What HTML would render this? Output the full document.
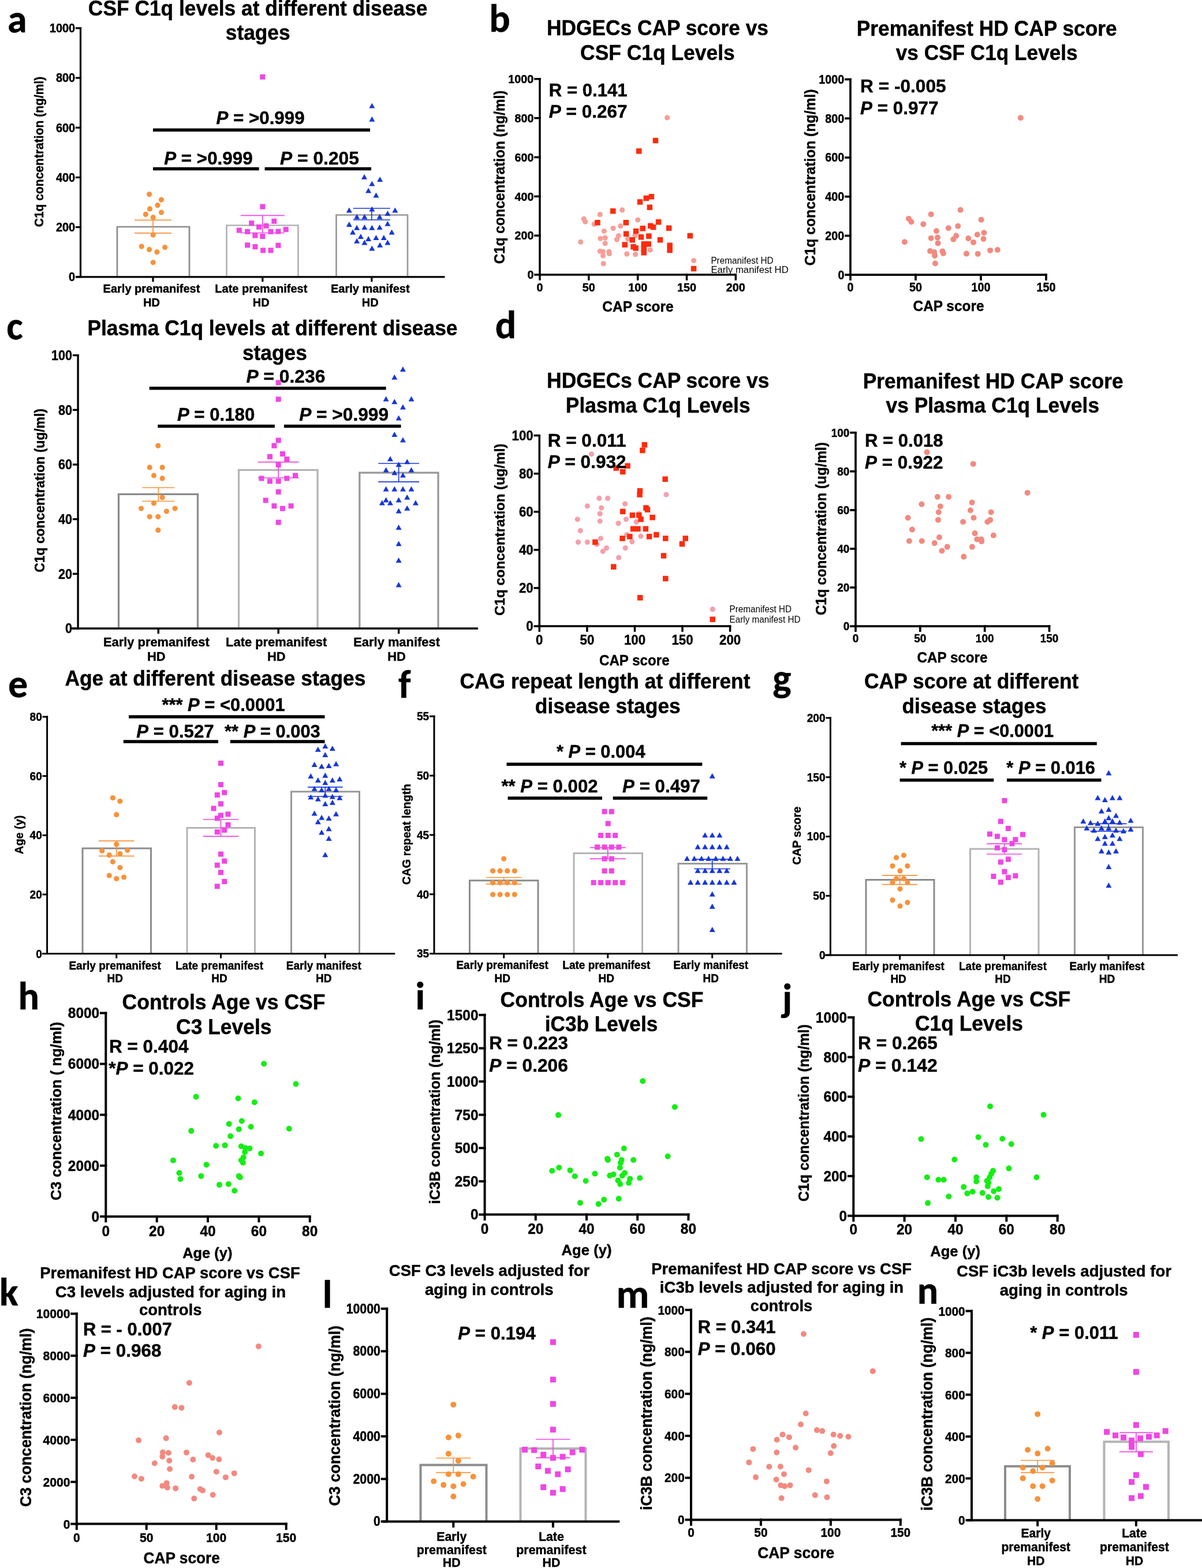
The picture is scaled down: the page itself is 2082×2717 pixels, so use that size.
<!DOCTYPE html><html><head><meta charset="utf-8"><style>html,body{margin:0;padding:0;background:#fff}svg{display:block}text{stroke:#000;stroke-width:0.45px;stroke-linejoin:round}text.n{stroke:none}</style></head><body><svg xmlns="http://www.w3.org/2000/svg" width="2082" height="2717" viewBox="0 0 2082 2717" font-family="'Liberation Sans', Arial, Helvetica, sans-serif" font-weight="bold"><rect width="2082" height="2717" fill="#fff"/><text x="29.8" y="55.6" font-size="68" text-anchor="middle" font-family="Carlito, 'Noto Sans CJK JP', 'Liberation Sans', sans-serif">a</text>
<text x="446.6" y="27" font-size="36.4" text-anchor="middle" textLength="587.5" lengthAdjust="spacingAndGlyphs">CSF C1q levels at different disease</text>
<text x="446.7" y="68.8" font-size="36.4" text-anchor="middle" textLength="111.8" lengthAdjust="spacingAndGlyphs">stages</text>
<path d="M203 479.8V393H328V479.8" fill="#fff" stroke="#8c8c8c" stroke-width="2.7"/>
<path d="M392.5 479.8V390.5H516.5V479.8" fill="#fff" stroke="#b4b4b4" stroke-width="2.7"/>
<path d="M582.5 479.8V372.5H706V479.8" fill="#fff" stroke="#999999" stroke-width="2.7"/>
<circle cx="258.6" cy="336.7" r="4.6" fill="#f7923a"/>
<circle cx="279.5" cy="346.2" r="4.6" fill="#f7923a"/>
<circle cx="272.9" cy="355.7" r="4.6" fill="#f7923a"/>
<circle cx="259.5" cy="361.9" r="4.6" fill="#f7923a"/>
<circle cx="252.4" cy="371.4" r="4.6" fill="#f7923a"/>
<circle cx="279.5" cy="368.1" r="4.6" fill="#f7923a"/>
<circle cx="265.2" cy="376.7" r="4.6" fill="#f7923a"/>
<circle cx="265.2" cy="407.1" r="4.6" fill="#f7923a"/>
<circle cx="245.2" cy="427.1" r="4.6" fill="#f7923a"/>
<circle cx="258.6" cy="432.4" r="4.6" fill="#f7923a"/>
<circle cx="271.9" cy="436.7" r="4.6" fill="#f7923a"/>
<circle cx="285.7" cy="428.6" r="4.6" fill="#f7923a"/>
<circle cx="265.2" cy="454.8" r="4.6" fill="#f7923a"/>
<rect x="450.3" y="128.8" width="9" height="9" fill="#f046e4"/>
<rect x="450.3" y="353.6" width="9" height="9" fill="#f046e4"/>
<rect x="431.2" y="382.2" width="9" height="9" fill="#f046e4"/>
<rect x="470.3" y="378.8" width="9" height="9" fill="#f046e4"/>
<rect x="409.8" y="394.5" width="9" height="9" fill="#f046e4"/>
<rect x="444.1" y="388.8" width="9" height="9" fill="#f046e4"/>
<rect x="456.5" y="386.9" width="9" height="9" fill="#f046e4"/>
<rect x="424.1" y="396.9" width="9" height="9" fill="#f046e4"/>
<rect x="437.4" y="403.6" width="9" height="9" fill="#f046e4"/>
<rect x="450.3" y="405" width="9" height="9" fill="#f046e4"/>
<rect x="464.5" y="396.9" width="9" height="9" fill="#f046e4"/>
<rect x="477.4" y="396.5" width="9" height="9" fill="#f046e4"/>
<rect x="490.7" y="393.1" width="9" height="9" fill="#f046e4"/>
<rect x="424.1" y="420.3" width="9" height="9" fill="#f046e4"/>
<rect x="437.4" y="423.1" width="9" height="9" fill="#f046e4"/>
<rect x="451.2" y="429.3" width="9" height="9" fill="#f046e4"/>
<rect x="464.5" y="429.3" width="9" height="9" fill="#f046e4"/>
<rect x="477.4" y="420.7" width="9" height="9" fill="#f046e4"/>
<path d="M644.3 178.4L649.3 187.4L639.3 187.4Z" fill="#1636dc"/>
<path d="M644.3 201.7L649.3 210.7L639.3 210.7Z" fill="#1636dc"/>
<path d="M631 301.7L636 310.7L626 310.7Z" fill="#1636dc"/>
<path d="M644.3 313.6L649.3 322.6L639.3 322.6Z" fill="#1636dc"/>
<path d="M658.1 306L663.1 315L653.1 315Z" fill="#1636dc"/>
<path d="M638.1 325.6L643.1 334.6L633.1 334.6Z" fill="#1636dc"/>
<path d="M651.4 333.6L656.4 342.6L646.4 342.6Z" fill="#1636dc"/>
<path d="M604.8 359.4L609.8 368.4L599.8 368.4Z" fill="#1636dc"/>
<path d="M618.1 370.8L623.1 379.8L613.1 379.8Z" fill="#1636dc"/>
<path d="M631.4 370.8L636.4 379.8L626.4 379.8Z" fill="#1636dc"/>
<path d="M644.3 357.5L649.3 366.5L639.3 366.5Z" fill="#1636dc"/>
<path d="M657.6 370.8L662.6 379.8L652.6 379.8Z" fill="#1636dc"/>
<path d="M671.4 365.1L676.4 374.1L666.4 374.1Z" fill="#1636dc"/>
<path d="M684.3 359.4L689.3 368.4L679.3 368.4Z" fill="#1636dc"/>
<path d="M604.8 384.1L609.8 393.1L599.8 393.1Z" fill="#1636dc"/>
<path d="M618.1 389.8L623.1 398.8L613.1 398.8Z" fill="#1636dc"/>
<path d="M631.4 388.9L636.4 397.9L626.4 397.9Z" fill="#1636dc"/>
<path d="M644.3 389.8L649.3 398.8L639.3 398.8Z" fill="#1636dc"/>
<path d="M657.6 388.9L662.6 397.9L652.6 397.9Z" fill="#1636dc"/>
<path d="M671.4 382.7L676.4 391.7L666.4 391.7Z" fill="#1636dc"/>
<path d="M611 397.5L616 406.5L606 406.5Z" fill="#1636dc"/>
<path d="M678.6 397.5L683.6 406.5L673.6 406.5Z" fill="#1636dc"/>
<path d="M624.8 405.1L629.8 414.1L619.8 414.1Z" fill="#1636dc"/>
<path d="M638.1 408.9L643.1 417.9L633.1 417.9Z" fill="#1636dc"/>
<path d="M651.4 407L656.4 416L646.4 416Z" fill="#1636dc"/>
<path d="M664.8 407L669.8 416L659.8 416Z" fill="#1636dc"/>
<path d="M618.1 412.7L623.1 421.7L613.1 421.7Z" fill="#1636dc"/>
<path d="M631.4 415.6L636.4 424.6L626.4 424.6Z" fill="#1636dc"/>
<path d="M658.1 419.8L663.1 428.8L653.1 428.8Z" fill="#1636dc"/>
<path d="M671.4 415.6L676.4 424.6L666.4 424.6Z" fill="#1636dc"/>
<path d="M644.3 425.6L649.3 434.6L639.3 434.6Z" fill="#1636dc"/>
<line x1="265" y1="381.4" x2="265" y2="403.8" stroke="#f7923a" stroke-width="1.7" stroke-linecap="butt"/>
<line x1="233" y1="381.4" x2="297" y2="381.4" stroke="#f7923a" stroke-width="1.7" stroke-linecap="butt"/>
<line x1="233" y1="403.8" x2="297" y2="403.8" stroke="#f7923a" stroke-width="1.7" stroke-linecap="butt"/>
<line x1="454.8" y1="373.3" x2="454.8" y2="403.5" stroke="#f046e4" stroke-width="1.7" stroke-linecap="butt"/>
<line x1="416.8" y1="373.3" x2="492.8" y2="373.3" stroke="#f046e4" stroke-width="1.7" stroke-linecap="butt"/>
<line x1="416.8" y1="403.5" x2="492.8" y2="403.5" stroke="#f046e4" stroke-width="1.7" stroke-linecap="butt"/>
<line x1="643.8" y1="361" x2="643.8" y2="381" stroke="#1636dc" stroke-width="1.7" stroke-linecap="butt"/>
<line x1="611.8" y1="361" x2="675.8" y2="361" stroke="#1636dc" stroke-width="1.7" stroke-linecap="butt"/>
<line x1="611.8" y1="381" x2="675.8" y2="381" stroke="#1636dc" stroke-width="1.7" stroke-linecap="butt"/>
<line x1="139.5" y1="47.2" x2="139.5" y2="479.8" stroke="#000" stroke-width="3.2" stroke-linecap="butt"/>
<line x1="131" y1="479.8" x2="770.5" y2="479.8" stroke="#000" stroke-width="3.2" stroke-linecap="butt"/>
<line x1="131" y1="479.8" x2="141.1" y2="479.8" stroke="#000" stroke-width="3.2" stroke-linecap="butt"/>
<text x="130.2" y="487.2" font-size="21.5" text-anchor="end" textLength="11.1" lengthAdjust="spacingAndGlyphs">0</text>
<line x1="131" y1="393.6" x2="141.1" y2="393.6" stroke="#000" stroke-width="3.2" stroke-linecap="butt"/>
<text x="130.2" y="401" font-size="21.5" text-anchor="end" textLength="33.3" lengthAdjust="spacingAndGlyphs">200</text>
<line x1="131" y1="307.4" x2="141.1" y2="307.4" stroke="#000" stroke-width="3.2" stroke-linecap="butt"/>
<text x="130.2" y="314.8" font-size="21.5" text-anchor="end" textLength="33.3" lengthAdjust="spacingAndGlyphs">400</text>
<line x1="131" y1="221.2" x2="141.1" y2="221.2" stroke="#000" stroke-width="3.2" stroke-linecap="butt"/>
<text x="130.2" y="228.6" font-size="21.5" text-anchor="end" textLength="33.3" lengthAdjust="spacingAndGlyphs">600</text>
<line x1="131" y1="135" x2="141.1" y2="135" stroke="#000" stroke-width="3.2" stroke-linecap="butt"/>
<text x="130.2" y="142.4" font-size="21.5" text-anchor="end" textLength="33.3" lengthAdjust="spacingAndGlyphs">800</text>
<line x1="131" y1="48.8" x2="141.1" y2="48.8" stroke="#000" stroke-width="3.2" stroke-linecap="butt"/>
<text x="130.2" y="56.2" font-size="21.5" text-anchor="end" textLength="44.4" lengthAdjust="spacingAndGlyphs">1000</text>
<line x1="265" y1="479.8" x2="265" y2="488.3" stroke="#000" stroke-width="3.2" stroke-linecap="butt"/>
<line x1="454.8" y1="479.8" x2="454.8" y2="488.3" stroke="#000" stroke-width="3.2" stroke-linecap="butt"/>
<line x1="643.8" y1="479.8" x2="643.8" y2="488.3" stroke="#000" stroke-width="3.2" stroke-linecap="butt"/>
<text x="262.5" y="507" font-size="20.7" text-anchor="middle" textLength="167.8" lengthAdjust="spacingAndGlyphs">Early premanifest</text>
<text x="452.3" y="507" font-size="20.7" text-anchor="middle" textLength="160" lengthAdjust="spacingAndGlyphs">Late premanifest</text>
<text x="641.3" y="507" font-size="20.7" text-anchor="middle" textLength="136.7" lengthAdjust="spacingAndGlyphs">Early manifest</text>
<text x="262.5" y="531" font-size="20.7" text-anchor="middle" textLength="28.9" lengthAdjust="spacingAndGlyphs">HD</text>
<text x="452.3" y="531" font-size="20.7" text-anchor="middle" textLength="28.9" lengthAdjust="spacingAndGlyphs">HD</text>
<text x="641.3" y="531" font-size="20.7" text-anchor="middle" textLength="28.9" lengthAdjust="spacingAndGlyphs">HD</text>
<text x="75.3" y="263" font-size="21.7" text-anchor="middle" textLength="260.6" lengthAdjust="spacingAndGlyphs" transform="rotate(-90 75.3 263)">C1q concentration (ng/ml)</text>
<line x1="265" y1="225.2" x2="641" y2="225.2" stroke="#000" stroke-width="5.5" stroke-linecap="butt"/>
<text x="451" y="215" font-size="32.1" text-anchor="middle" textLength="153.2" lengthAdjust="spacingAndGlyphs" xml:space="preserve"><tspan font-style="italic">P</tspan><tspan> = &gt;0.999</tspan></text>
<line x1="265" y1="292.4" x2="448.6" y2="292.4" stroke="#000" stroke-width="5.5" stroke-linecap="butt"/>
<line x1="458.6" y1="292.4" x2="643" y2="292.4" stroke="#000" stroke-width="5.5" stroke-linecap="butt"/>
<text x="360.9" y="285" font-size="32.1" text-anchor="middle" textLength="153.4" lengthAdjust="spacingAndGlyphs" xml:space="preserve"><tspan font-style="italic">P</tspan><tspan> = &gt;0.999</tspan></text>
<text x="553.5" y="285" font-size="32.1" text-anchor="middle" textLength="136.9" lengthAdjust="spacingAndGlyphs" xml:space="preserve"><tspan font-style="italic">P</tspan><tspan> = 0.205</tspan></text>
<text x="865.5" y="54.6" font-size="68" text-anchor="middle" font-family="Carlito, 'Noto Sans CJK JP', 'Liberation Sans', sans-serif">b</text>
<text x="1139" y="61.3" font-size="36.4" text-anchor="middle" textLength="383.9" lengthAdjust="spacingAndGlyphs">HDGECs CAP score vs</text>
<text x="1138.9" y="104.1" font-size="36.4" text-anchor="middle" textLength="267.6" lengthAdjust="spacingAndGlyphs">CSF C1q Levels</text>
<circle cx="1077.7" cy="363.9" r="4.6" fill="#f5a098"/>
<circle cx="1039.3" cy="371.7" r="4.6" fill="#f5a098"/>
<circle cx="1011.3" cy="379.4" r="4.6" fill="#f5a098"/>
<circle cx="1013.7" cy="384.2" r="4.6" fill="#f5a098"/>
<circle cx="1029.2" cy="388.3" r="4.6" fill="#f5a098"/>
<circle cx="1104.8" cy="381" r="4.6" fill="#f5a098"/>
<circle cx="1074.8" cy="391.7" r="4.6" fill="#f5a098"/>
<circle cx="1062.1" cy="395.5" r="4.6" fill="#f5a098"/>
<circle cx="1046.4" cy="400.5" r="4.6" fill="#f5a098"/>
<circle cx="1071.4" cy="408.6" r="4.6" fill="#f5a098"/>
<circle cx="1068.5" cy="415.1" r="4.6" fill="#f5a098"/>
<circle cx="1039.9" cy="413.3" r="4.6" fill="#f5a098"/>
<circle cx="1048.2" cy="412.1" r="4.6" fill="#f5a098"/>
<circle cx="1048.2" cy="421.7" r="4.6" fill="#f5a098"/>
<circle cx="1005.7" cy="419.3" r="4.6" fill="#f5a098"/>
<circle cx="1087.5" cy="413.9" r="4.6" fill="#f5a098"/>
<circle cx="1100" cy="408" r="4.6" fill="#f5a098"/>
<circle cx="1039.3" cy="435.4" r="4.6" fill="#f5a098"/>
<circle cx="1044.3" cy="436" r="4.6" fill="#f5a098"/>
<circle cx="1044.6" cy="443.1" r="4.6" fill="#f5a098"/>
<circle cx="1054.8" cy="436" r="4.6" fill="#f5a098"/>
<circle cx="1055.4" cy="439.5" r="4.6" fill="#f5a098"/>
<circle cx="1085.7" cy="440.1" r="4.6" fill="#f5a098"/>
<circle cx="1100.6" cy="440.7" r="4.6" fill="#f5a098"/>
<circle cx="1126.2" cy="433" r="4.6" fill="#f5a098"/>
<circle cx="1045.2" cy="456.8" r="4.6" fill="#f5a098"/>
<circle cx="1155.7" cy="203.9" r="4.6" fill="#f5a098"/>
<rect x="1103.8" y="345.2" width="9.5" height="9.5" fill="#ff2b0c"/>
<rect x="1114.5" y="338.7" width="9.5" height="9.5" fill="#ff2b0c"/>
<rect x="1123.6" y="336" width="9.5" height="9.5" fill="#ff2b0c"/>
<rect x="1120.6" y="354.5" width="9.5" height="9.5" fill="#ff2b0c"/>
<rect x="1057" y="361" width="9.5" height="9.5" fill="#ff2b0c"/>
<rect x="1030.2" y="381" width="9.5" height="9.5" fill="#ff2b0c"/>
<rect x="1079.5" y="381" width="9.5" height="9.5" fill="#ff2b0c"/>
<rect x="1135.8" y="380" width="9.5" height="9.5" fill="#ff2b0c"/>
<rect x="1122" y="386.6" width="9.5" height="9.5" fill="#ff2b0c"/>
<rect x="1126.8" y="388.9" width="9.5" height="9.5" fill="#ff2b0c"/>
<rect x="1108.5" y="391.1" width="9.5" height="9.5" fill="#ff2b0c"/>
<rect x="1153.9" y="390.5" width="9.5" height="9.5" fill="#ff2b0c"/>
<rect x="1096.8" y="395.8" width="9.5" height="9.5" fill="#ff2b0c"/>
<rect x="1079.9" y="400.5" width="9.5" height="9.5" fill="#ff2b0c"/>
<rect x="1119.1" y="404.4" width="9.5" height="9.5" fill="#ff2b0c"/>
<rect x="1105.7" y="406" width="9.5" height="9.5" fill="#ff2b0c"/>
<rect x="1090.5" y="411" width="9.5" height="9.5" fill="#ff2b0c"/>
<rect x="1138.7" y="411" width="9.5" height="9.5" fill="#ff2b0c"/>
<rect x="1077.5" y="419.3" width="9.5" height="9.5" fill="#ff2b0c"/>
<rect x="1110.5" y="418.1" width="9.5" height="9.5" fill="#ff2b0c"/>
<rect x="1118.5" y="418.1" width="9.5" height="9.5" fill="#ff2b0c"/>
<rect x="1092.3" y="422.9" width="9.5" height="9.5" fill="#ff2b0c"/>
<rect x="1096.4" y="425.2" width="9.5" height="9.5" fill="#ff2b0c"/>
<rect x="1155.4" y="420.5" width="9.5" height="9.5" fill="#ff2b0c"/>
<rect x="1155.4" y="428.8" width="9.5" height="9.5" fill="#ff2b0c"/>
<rect x="1110.5" y="426.4" width="9.5" height="9.5" fill="#ff2b0c"/>
<rect x="1110.5" y="433" width="9.5" height="9.5" fill="#ff2b0c"/>
<rect x="1190.5" y="403.8" width="9.5" height="9.5" fill="#ff2b0c"/>
<rect x="1130.7" y="238.8" width="9.5" height="9.5" fill="#ff2b0c"/>
<rect x="1102" y="257.1" width="9.5" height="9.5" fill="#ff2b0c"/>
<line x1="935" y1="135.1" x2="935" y2="477.8" stroke="#000" stroke-width="3.5" stroke-linecap="butt"/>
<line x1="933.2" y1="476" x2="1276" y2="476" stroke="#000" stroke-width="3.5" stroke-linecap="butt"/>
<line x1="925.2" y1="476" x2="936.8" y2="476" stroke="#000" stroke-width="3.5" stroke-linecap="butt"/>
<text x="924.4" y="483.2" font-size="20.7" text-anchor="end" textLength="11" lengthAdjust="spacingAndGlyphs">0</text>
<line x1="925.2" y1="408.2" x2="936.8" y2="408.2" stroke="#000" stroke-width="3.5" stroke-linecap="butt"/>
<text x="924.4" y="415.3" font-size="20.7" text-anchor="end" textLength="33" lengthAdjust="spacingAndGlyphs">200</text>
<line x1="925.2" y1="340.3" x2="936.8" y2="340.3" stroke="#000" stroke-width="3.5" stroke-linecap="butt"/>
<text x="924.4" y="347.5" font-size="20.7" text-anchor="end" textLength="33" lengthAdjust="spacingAndGlyphs">400</text>
<line x1="925.2" y1="272.5" x2="936.8" y2="272.5" stroke="#000" stroke-width="3.5" stroke-linecap="butt"/>
<text x="924.4" y="279.6" font-size="20.7" text-anchor="end" textLength="33" lengthAdjust="spacingAndGlyphs">600</text>
<line x1="925.2" y1="204.6" x2="936.8" y2="204.6" stroke="#000" stroke-width="3.5" stroke-linecap="butt"/>
<text x="924.4" y="211.8" font-size="20.7" text-anchor="end" textLength="33" lengthAdjust="spacingAndGlyphs">800</text>
<line x1="925.2" y1="136.8" x2="936.8" y2="136.8" stroke="#000" stroke-width="3.5" stroke-linecap="butt"/>
<text x="924.4" y="144" font-size="20.7" text-anchor="end" textLength="44.1" lengthAdjust="spacingAndGlyphs">1000</text>
<line x1="935" y1="474.2" x2="935" y2="485.8" stroke="#000" stroke-width="3.5" stroke-linecap="butt"/>
<text x="935" y="505" font-size="20.7" text-anchor="middle" textLength="11" lengthAdjust="spacingAndGlyphs">0</text>
<line x1="1019.8" y1="474.2" x2="1019.8" y2="485.8" stroke="#000" stroke-width="3.5" stroke-linecap="butt"/>
<text x="1019.8" y="505" font-size="20.7" text-anchor="middle" textLength="22" lengthAdjust="spacingAndGlyphs">50</text>
<line x1="1104.7" y1="474.2" x2="1104.7" y2="485.8" stroke="#000" stroke-width="3.5" stroke-linecap="butt"/>
<text x="1104.7" y="505" font-size="20.7" text-anchor="middle" textLength="33" lengthAdjust="spacingAndGlyphs">100</text>
<line x1="1189.5" y1="474.2" x2="1189.5" y2="485.8" stroke="#000" stroke-width="3.5" stroke-linecap="butt"/>
<text x="1189.5" y="505" font-size="20.7" text-anchor="middle" textLength="33" lengthAdjust="spacingAndGlyphs">150</text>
<line x1="1274.3" y1="474.2" x2="1274.3" y2="485.8" stroke="#000" stroke-width="3.5" stroke-linecap="butt"/>
<text x="1274.3" y="505" font-size="20.7" text-anchor="middle" textLength="33" lengthAdjust="spacingAndGlyphs">200</text>
<text x="873.6" y="307" font-size="25" text-anchor="middle" textLength="300.7" lengthAdjust="spacingAndGlyphs" transform="rotate(-90 873.6 307)">C1q concentration (ng/ml)</text>
<text x="1105" y="540" font-size="25.2" text-anchor="middle" textLength="123.4" lengthAdjust="spacingAndGlyphs">CAP score</text>
<text x="1018.7" y="167" font-size="32.1" text-anchor="middle" textLength="135.8" lengthAdjust="spacingAndGlyphs">R = 0.141</text>
<text x="1018.7" y="204" font-size="32.1" text-anchor="middle" textLength="135.8" lengthAdjust="spacingAndGlyphs" xml:space="preserve"><tspan font-style="italic">P</tspan><tspan> = 0.267</tspan></text>
<circle cx="1201.5" cy="451.5" r="4.6" fill="#f5a098"/>
<rect x="1196.8" y="460.8" width="9.5" height="9.5" fill="#ff2b0c"/>
<text x="1231.4" y="457" font-size="16.6" font-weight="normal" class="n" textLength="108.2" lengthAdjust="spacingAndGlyphs">Premanifest HD</text>
<text x="1231.4" y="472.5" font-size="16.6" font-weight="normal" class="n" textLength="134.3" lengthAdjust="spacingAndGlyphs">Early manifest HD</text>
<text x="1709.2" y="61.8" font-size="36.4" text-anchor="middle" textLength="451" lengthAdjust="spacingAndGlyphs">Premanifest HD CAP score</text>
<text x="1709.2" y="103.5" font-size="36.4" text-anchor="middle" textLength="314.9" lengthAdjust="spacingAndGlyphs">vs CSF C1q Levels</text>
<circle cx="1767.8" cy="204.2" r="5" fill="#f28a80"/>
<circle cx="1663.6" cy="363.7" r="5" fill="#f28a80"/>
<circle cx="1612.7" cy="371.4" r="5" fill="#f28a80"/>
<circle cx="1574" cy="378.9" r="5" fill="#f28a80"/>
<circle cx="1578.5" cy="384.5" r="5" fill="#f28a80"/>
<circle cx="1699.6" cy="380.7" r="5" fill="#f28a80"/>
<circle cx="1599.3" cy="388.4" r="5" fill="#f28a80"/>
<circle cx="1659.2" cy="391.7" r="5" fill="#f28a80"/>
<circle cx="1642.8" cy="395.2" r="5" fill="#f28a80"/>
<circle cx="1622" cy="400.3" r="5" fill="#f28a80"/>
<circle cx="1704.4" cy="403.3" r="5" fill="#f28a80"/>
<circle cx="1692.8" cy="406.5" r="5" fill="#f28a80"/>
<circle cx="1656.2" cy="408.6" r="5" fill="#f28a80"/>
<circle cx="1612.7" cy="412.8" r="5" fill="#f28a80"/>
<circle cx="1624" cy="411.6" r="5" fill="#f28a80"/>
<circle cx="1677.3" cy="413.1" r="5" fill="#f28a80"/>
<circle cx="1651.4" cy="414.6" r="5" fill="#f28a80"/>
<circle cx="1703.5" cy="414" r="5" fill="#f28a80"/>
<circle cx="1566.9" cy="419.3" r="5" fill="#f28a80"/>
<circle cx="1624.6" cy="421.4" r="5" fill="#f28a80"/>
<circle cx="1686" cy="419.9" r="5" fill="#f28a80"/>
<circle cx="1611" cy="435.1" r="5" fill="#f28a80"/>
<circle cx="1618.1" cy="436.9" r="5" fill="#f28a80"/>
<circle cx="1632.4" cy="435.4" r="5" fill="#f28a80"/>
<circle cx="1633.9" cy="439" r="5" fill="#f28a80"/>
<circle cx="1715.1" cy="433.9" r="5" fill="#f28a80"/>
<circle cx="1727.9" cy="433" r="5" fill="#f28a80"/>
<circle cx="1674" cy="439.6" r="5" fill="#f28a80"/>
<circle cx="1693.7" cy="439.9" r="5" fill="#f28a80"/>
<circle cx="1619" cy="442.9" r="5" fill="#f28a80"/>
<circle cx="1619.9" cy="456.5" r="5" fill="#f28a80"/>
<line x1="1473" y1="135.7" x2="1473" y2="478.1" stroke="#000" stroke-width="3.7" stroke-linecap="butt"/>
<line x1="1471.2" y1="476.2" x2="1813.8" y2="476.2" stroke="#000" stroke-width="3.7" stroke-linecap="butt"/>
<line x1="1463.2" y1="476.2" x2="1474.8" y2="476.2" stroke="#000" stroke-width="3.7" stroke-linecap="butt"/>
<text x="1462.4" y="483.6" font-size="21.4" text-anchor="end" textLength="11" lengthAdjust="spacingAndGlyphs">0</text>
<line x1="1463.2" y1="408.5" x2="1474.8" y2="408.5" stroke="#000" stroke-width="3.7" stroke-linecap="butt"/>
<text x="1462.4" y="415.9" font-size="21.4" text-anchor="end" textLength="33.1" lengthAdjust="spacingAndGlyphs">200</text>
<line x1="1463.2" y1="340.7" x2="1474.8" y2="340.7" stroke="#000" stroke-width="3.7" stroke-linecap="butt"/>
<text x="1462.4" y="348.1" font-size="21.4" text-anchor="end" textLength="33.1" lengthAdjust="spacingAndGlyphs">400</text>
<line x1="1463.2" y1="273" x2="1474.8" y2="273" stroke="#000" stroke-width="3.7" stroke-linecap="butt"/>
<text x="1462.4" y="280.4" font-size="21.4" text-anchor="end" textLength="33.1" lengthAdjust="spacingAndGlyphs">600</text>
<line x1="1463.2" y1="205.2" x2="1474.8" y2="205.2" stroke="#000" stroke-width="3.7" stroke-linecap="butt"/>
<text x="1462.4" y="212.7" font-size="21.4" text-anchor="end" textLength="33.1" lengthAdjust="spacingAndGlyphs">800</text>
<line x1="1463.2" y1="137.5" x2="1474.8" y2="137.5" stroke="#000" stroke-width="3.7" stroke-linecap="butt"/>
<text x="1462.4" y="144.9" font-size="21.4" text-anchor="end" textLength="44.2" lengthAdjust="spacingAndGlyphs">1000</text>
<line x1="1473" y1="474.3" x2="1473" y2="486" stroke="#000" stroke-width="3.7" stroke-linecap="butt"/>
<text x="1473" y="505" font-size="21.4" text-anchor="middle" textLength="11" lengthAdjust="spacingAndGlyphs">0</text>
<line x1="1586" y1="474.3" x2="1586" y2="486" stroke="#000" stroke-width="3.7" stroke-linecap="butt"/>
<text x="1586" y="505" font-size="21.4" text-anchor="middle" textLength="22.1" lengthAdjust="spacingAndGlyphs">50</text>
<line x1="1699" y1="474.3" x2="1699" y2="486" stroke="#000" stroke-width="3.7" stroke-linecap="butt"/>
<text x="1699" y="505" font-size="21.4" text-anchor="middle" textLength="33.1" lengthAdjust="spacingAndGlyphs">100</text>
<line x1="1812" y1="474.3" x2="1812" y2="486" stroke="#000" stroke-width="3.7" stroke-linecap="butt"/>
<text x="1812" y="505" font-size="21.4" text-anchor="middle" textLength="33.1" lengthAdjust="spacingAndGlyphs">150</text>
<text x="1411.8" y="307.3" font-size="25.5" text-anchor="middle" textLength="305.7" lengthAdjust="spacingAndGlyphs" transform="rotate(-90 1411.8 307.3)">C1q concentration (ng/ml)</text>
<text x="1643" y="538.7" font-size="25.2" text-anchor="middle" textLength="123" lengthAdjust="spacingAndGlyphs">CAP score</text>
<text x="1564.3" y="160" font-size="32.1" text-anchor="middle" textLength="148.5" lengthAdjust="spacingAndGlyphs">R = -0.005</text>
<text x="1557.8" y="198" font-size="32.1" text-anchor="middle" textLength="135.5" lengthAdjust="spacingAndGlyphs" xml:space="preserve"><tspan font-style="italic">P</tspan><tspan> = 0.977</tspan></text>
<text x="25.5" y="588.4" font-size="68" text-anchor="middle" font-family="Carlito, 'Noto Sans CJK JP', 'Liberation Sans', sans-serif">c</text>
<text x="472" y="580.8" font-size="36.4" text-anchor="middle" textLength="641.1" lengthAdjust="spacingAndGlyphs">Plasma C1q levels at different disease</text>
<text x="475.9" y="623.8" font-size="36.4" text-anchor="middle" textLength="111.8" lengthAdjust="spacingAndGlyphs">stages</text>
<path d="M205.5 1089V856.3H342.5V1089" fill="#fff" stroke="#8c8c8c" stroke-width="3.3"/>
<path d="M413.5 1089V814.3H550V1089" fill="#fff" stroke="#b4b4b4" stroke-width="3.3"/>
<path d="M622.8 1089V819.2H759V1089" fill="#fff" stroke="#999999" stroke-width="3.3"/>
<circle cx="273.8" cy="772.3" r="4.6" fill="#f7923a"/>
<circle cx="259.2" cy="809.9" r="4.6" fill="#f7923a"/>
<circle cx="281.1" cy="809.9" r="4.6" fill="#f7923a"/>
<circle cx="266.5" cy="824" r="4.6" fill="#f7923a"/>
<circle cx="281.1" cy="828.9" r="4.6" fill="#f7923a"/>
<circle cx="281.1" cy="862.1" r="4.6" fill="#f7923a"/>
<circle cx="266.5" cy="871.9" r="4.6" fill="#f7923a"/>
<circle cx="244.5" cy="881.1" r="4.6" fill="#f7923a"/>
<circle cx="288.4" cy="886" r="4.6" fill="#f7923a"/>
<circle cx="303.1" cy="881.1" r="4.6" fill="#f7923a"/>
<circle cx="259.2" cy="895.3" r="4.6" fill="#f7923a"/>
<circle cx="273.8" cy="895.3" r="4.6" fill="#f7923a"/>
<circle cx="273.8" cy="918.7" r="4.6" fill="#f7923a"/>
<rect x="477.7" y="658.5" width="9" height="9" fill="#f046e4"/>
<rect x="477.7" y="687.3" width="9" height="9" fill="#f046e4"/>
<rect x="477.7" y="758.5" width="9" height="9" fill="#f046e4"/>
<rect x="470.4" y="767.8" width="9" height="9" fill="#f046e4"/>
<rect x="485" y="782" width="9" height="9" fill="#f046e4"/>
<rect x="463" y="786.8" width="9" height="9" fill="#f046e4"/>
<rect x="492.3" y="791.2" width="9" height="9" fill="#f046e4"/>
<rect x="477.7" y="801" width="9" height="9" fill="#f046e4"/>
<rect x="448.4" y="824.4" width="9" height="9" fill="#f046e4"/>
<rect x="463" y="829.3" width="9" height="9" fill="#f046e4"/>
<rect x="477.7" y="829.3" width="9" height="9" fill="#f046e4"/>
<rect x="492.3" y="824.4" width="9" height="9" fill="#f046e4"/>
<rect x="507" y="819.5" width="9" height="9" fill="#f046e4"/>
<rect x="477.7" y="847.8" width="9" height="9" fill="#f046e4"/>
<rect x="455.7" y="862.5" width="9" height="9" fill="#f046e4"/>
<rect x="470.4" y="872.2" width="9" height="9" fill="#f046e4"/>
<rect x="485" y="876.6" width="9" height="9" fill="#f046e4"/>
<rect x="499.6" y="872.2" width="9" height="9" fill="#f046e4"/>
<rect x="477.7" y="900.6" width="9" height="9" fill="#f046e4"/>
<path d="M697.9 635.1L702.9 644.1L692.9 644.1Z" fill="#1636dc"/>
<path d="M683.3 648.8L688.3 657.8L678.3 657.8Z" fill="#1636dc"/>
<path d="M668.6 686.4L673.6 695.4L663.6 695.4Z" fill="#1636dc"/>
<path d="M683.3 691.3L688.3 700.3L678.3 700.3Z" fill="#1636dc"/>
<path d="M712.5 686.4L717.5 695.4L707.5 695.4Z" fill="#1636dc"/>
<path d="M697.9 700.5L702.9 709.5L692.9 709.5Z" fill="#1636dc"/>
<path d="M690.6 719.6L695.6 728.6L685.6 728.6Z" fill="#1636dc"/>
<path d="M683.3 747.9L688.3 756.9L678.3 756.9Z" fill="#1636dc"/>
<path d="M697.9 757.6L702.9 766.6L692.9 766.6Z" fill="#1636dc"/>
<path d="M675.9 790.3L680.9 799.3L670.9 799.3Z" fill="#1636dc"/>
<path d="M705.2 795.2L710.2 804.2L700.2 804.2Z" fill="#1636dc"/>
<path d="M668.6 809.4L673.6 818.4L663.6 818.4Z" fill="#1636dc"/>
<path d="M683.3 814.2L688.3 823.2L678.3 823.2Z" fill="#1636dc"/>
<path d="M697.9 818.6L702.9 827.6L692.9 827.6Z" fill="#1636dc"/>
<path d="M712.5 809.4L717.5 818.4L707.5 818.4Z" fill="#1636dc"/>
<path d="M690.6 800.1L695.6 809.1L685.6 809.1Z" fill="#1636dc"/>
<path d="M668.6 842.6L673.6 851.6L663.6 851.6Z" fill="#1636dc"/>
<path d="M683.3 842.6L688.3 851.6L678.3 851.6Z" fill="#1636dc"/>
<path d="M697.9 842.6L702.9 851.6L692.9 851.6Z" fill="#1636dc"/>
<path d="M712.5 842.6L717.5 851.6L707.5 851.6Z" fill="#1636dc"/>
<path d="M668.6 861.6L673.6 870.6L663.6 870.6Z" fill="#1636dc"/>
<path d="M661.8 866.5L666.8 875.5L656.8 875.5Z" fill="#1636dc"/>
<path d="M675.9 866.5L680.9 875.5L670.9 875.5Z" fill="#1636dc"/>
<path d="M690.6 861.6L695.6 870.6L685.6 870.6Z" fill="#1636dc"/>
<path d="M705.2 856.7L710.2 865.7L700.2 865.7Z" fill="#1636dc"/>
<path d="M719.9 866.5L724.9 875.5L714.9 875.5Z" fill="#1636dc"/>
<path d="M690.6 880.6L695.6 889.6L685.6 889.6Z" fill="#1636dc"/>
<path d="M705.2 875.7L710.2 884.7L700.2 884.7Z" fill="#1636dc"/>
<path d="M690.6 908.9L695.6 917.9L685.6 917.9Z" fill="#1636dc"/>
<path d="M690.6 937.2L695.6 946.2L685.6 946.2Z" fill="#1636dc"/>
<path d="M690.6 966L695.6 975L685.6 975Z" fill="#1636dc"/>
<path d="M690.6 1008.5L695.6 1017.5L685.6 1017.5Z" fill="#1636dc"/>
<line x1="274.3" y1="845" x2="274.3" y2="868.5" stroke="#f7923a" stroke-width="1.7" stroke-linecap="butt"/>
<line x1="246.3" y1="845" x2="302.3" y2="845" stroke="#f7923a" stroke-width="1.7" stroke-linecap="butt"/>
<line x1="246.3" y1="868.5" x2="302.3" y2="868.5" stroke="#f7923a" stroke-width="1.7" stroke-linecap="butt"/>
<line x1="482.2" y1="800.6" x2="482.2" y2="828" stroke="#f046e4" stroke-width="1.7" stroke-linecap="butt"/>
<line x1="446.8" y1="800.6" x2="517.6" y2="800.6" stroke="#f046e4" stroke-width="1.7" stroke-linecap="butt"/>
<line x1="446.8" y1="828" x2="517.6" y2="828" stroke="#f046e4" stroke-width="1.7" stroke-linecap="butt"/>
<line x1="690.6" y1="803" x2="690.6" y2="834.8" stroke="#1636dc" stroke-width="1.7" stroke-linecap="butt"/>
<line x1="655.2" y1="803" x2="726" y2="803" stroke="#1636dc" stroke-width="1.7" stroke-linecap="butt"/>
<line x1="655.2" y1="834.8" x2="726" y2="834.8" stroke="#1636dc" stroke-width="1.7" stroke-linecap="butt"/>
<line x1="135.1" y1="613.9" x2="135.1" y2="1089" stroke="#000" stroke-width="3.4" stroke-linecap="butt"/>
<line x1="122" y1="1089" x2="828" y2="1089" stroke="#000" stroke-width="3.4" stroke-linecap="butt"/>
<line x1="125.9" y1="1089" x2="136.8" y2="1089" stroke="#000" stroke-width="3.4" stroke-linecap="butt"/>
<text x="125.1" y="1097.3" font-size="24" text-anchor="end" textLength="12" lengthAdjust="spacingAndGlyphs">0</text>
<line x1="125.9" y1="994.3" x2="136.8" y2="994.3" stroke="#000" stroke-width="3.4" stroke-linecap="butt"/>
<text x="125.1" y="1002.6" font-size="24" text-anchor="end" textLength="24" lengthAdjust="spacingAndGlyphs">20</text>
<line x1="125.9" y1="899.6" x2="136.8" y2="899.6" stroke="#000" stroke-width="3.4" stroke-linecap="butt"/>
<text x="125.1" y="907.9" font-size="24" text-anchor="end" textLength="24" lengthAdjust="spacingAndGlyphs">40</text>
<line x1="125.9" y1="805" x2="136.8" y2="805" stroke="#000" stroke-width="3.4" stroke-linecap="butt"/>
<text x="125.1" y="813.3" font-size="24" text-anchor="end" textLength="24" lengthAdjust="spacingAndGlyphs">60</text>
<line x1="125.9" y1="710.3" x2="136.8" y2="710.3" stroke="#000" stroke-width="3.4" stroke-linecap="butt"/>
<text x="125.1" y="718.6" font-size="24" text-anchor="end" textLength="24" lengthAdjust="spacingAndGlyphs">80</text>
<line x1="125.9" y1="615.6" x2="136.8" y2="615.6" stroke="#000" stroke-width="3.4" stroke-linecap="butt"/>
<text x="125.1" y="623.9" font-size="24" text-anchor="end" textLength="36" lengthAdjust="spacingAndGlyphs">100</text>
<line x1="274.3" y1="1089" x2="274.3" y2="1098.2" stroke="#000" stroke-width="3.4" stroke-linecap="butt"/>
<line x1="482.2" y1="1089" x2="482.2" y2="1098.2" stroke="#000" stroke-width="3.4" stroke-linecap="butt"/>
<line x1="690.6" y1="1089" x2="690.6" y2="1098.2" stroke="#000" stroke-width="3.4" stroke-linecap="butt"/>
<text x="270.8" y="1119.8" font-size="22.7" text-anchor="middle" textLength="183.8" lengthAdjust="spacingAndGlyphs">Early premanifest</text>
<text x="478.7" y="1119.8" font-size="22.7" text-anchor="middle" textLength="175.2" lengthAdjust="spacingAndGlyphs">Late premanifest</text>
<text x="687.1" y="1119.8" font-size="22.7" text-anchor="middle" textLength="149.7" lengthAdjust="spacingAndGlyphs">Early manifest</text>
<text x="270.8" y="1145" font-size="22.7" text-anchor="middle" textLength="31.6" lengthAdjust="spacingAndGlyphs">HD</text>
<text x="478.7" y="1145" font-size="22.7" text-anchor="middle" textLength="31.6" lengthAdjust="spacingAndGlyphs">HD</text>
<text x="687.1" y="1145" font-size="22.7" text-anchor="middle" textLength="31.6" lengthAdjust="spacingAndGlyphs">HD</text>
<text x="77.5" y="849.9" font-size="23.6" text-anchor="middle" textLength="283.7" lengthAdjust="spacingAndGlyphs" transform="rotate(-90 77.5 849.9)">C1q concentration (ug/ml)</text>
<line x1="258.7" y1="672.7" x2="668.6" y2="672.7" stroke="#000" stroke-width="5.5" stroke-linecap="butt"/>
<text x="494.9" y="663" font-size="32.1" text-anchor="middle" textLength="136.9" lengthAdjust="spacingAndGlyphs" xml:space="preserve"><tspan font-style="italic">P</tspan><tspan> = 0.236</tspan></text>
<line x1="273.3" y1="738.6" x2="475.9" y2="738.6" stroke="#000" stroke-width="5.5" stroke-linecap="butt"/>
<line x1="492" y1="738.6" x2="694.5" y2="738.6" stroke="#000" stroke-width="5.5" stroke-linecap="butt"/>
<text x="374.1" y="729" font-size="32.1" text-anchor="middle" textLength="134.4" lengthAdjust="spacingAndGlyphs" xml:space="preserve"><tspan font-style="italic">P</tspan><tspan> = 0.180</tspan></text>
<text x="595.6" y="729" font-size="32.1" text-anchor="middle" textLength="154.9" lengthAdjust="spacingAndGlyphs" xml:space="preserve"><tspan font-style="italic">P</tspan><tspan> = &gt;0.999</tspan></text>
<text x="876.0" y="586.4" font-size="68" text-anchor="middle" font-family="Carlito, 'Noto Sans CJK JP', 'Liberation Sans', sans-serif">d</text>
<text x="1139.7" y="672.2" font-size="36.4" text-anchor="middle" textLength="385.3" lengthAdjust="spacingAndGlyphs">HDGECs CAP score vs</text>
<text x="1139.7" y="715.1" font-size="36.4" text-anchor="middle" textLength="319.7" lengthAdjust="spacingAndGlyphs">Plasma C1q Levels</text>
<circle cx="1024.5" cy="786.8" r="4.6" fill="#f4a0ac"/>
<circle cx="1037.9" cy="863.4" r="4.6" fill="#f4a0ac"/>
<circle cx="1052.6" cy="863.4" r="4.6" fill="#f4a0ac"/>
<circle cx="1017.4" cy="876.8" r="4.6" fill="#f4a0ac"/>
<circle cx="1082.6" cy="873" r="4.6" fill="#f4a0ac"/>
<circle cx="1041.7" cy="880" r="4.6" fill="#f4a0ac"/>
<circle cx="1039.2" cy="890.2" r="4.6" fill="#f4a0ac"/>
<circle cx="1000.2" cy="899.8" r="4.6" fill="#f4a0ac"/>
<circle cx="1039.2" cy="903" r="4.6" fill="#f4a0ac"/>
<circle cx="1084.5" cy="899.8" r="4.6" fill="#f4a0ac"/>
<circle cx="1071.1" cy="906.8" r="4.6" fill="#f4a0ac"/>
<circle cx="1102.3" cy="904.3" r="4.6" fill="#f4a0ac"/>
<circle cx="1106.8" cy="890.2" r="4.6" fill="#f4a0ac"/>
<circle cx="1005.3" cy="919.6" r="4.6" fill="#f4a0ac"/>
<circle cx="1040.4" cy="933" r="4.6" fill="#f4a0ac"/>
<circle cx="1001.5" cy="939.4" r="4.6" fill="#f4a0ac"/>
<circle cx="1017.4" cy="939.4" r="4.6" fill="#f4a0ac"/>
<circle cx="1034" cy="943.2" r="4.6" fill="#f4a0ac"/>
<circle cx="1050.6" cy="949.6" r="4.6" fill="#f4a0ac"/>
<circle cx="1044.3" cy="955.3" r="4.6" fill="#f4a0ac"/>
<circle cx="1083.2" cy="949.6" r="4.6" fill="#f4a0ac"/>
<circle cx="1085.7" cy="926.6" r="4.6" fill="#f4a0ac"/>
<circle cx="1094.7" cy="938.7" r="4.6" fill="#f4a0ac"/>
<circle cx="1110" cy="929.2" r="4.6" fill="#f4a0ac"/>
<circle cx="1071.7" cy="966.2" r="4.6" fill="#f4a0ac"/>
<circle cx="1154" cy="857" r="4.6" fill="#f4a0ac"/>
<rect x="1111.6" y="766.1" width="9.5" height="9.5" fill="#ff2b0c"/>
<rect x="1108.1" y="775.7" width="9.5" height="9.5" fill="#ff2b0c"/>
<rect x="1062.5" y="806.3" width="9.5" height="9.5" fill="#ff2b0c"/>
<rect x="1074" y="812.7" width="9.5" height="9.5" fill="#ff2b0c"/>
<rect x="1082.3" y="802.5" width="9.5" height="9.5" fill="#ff2b0c"/>
<rect x="1147.4" y="825.5" width="9.5" height="9.5" fill="#ff2b0c"/>
<rect x="1103.7" y="845.9" width="9.5" height="9.5" fill="#ff2b0c"/>
<rect x="1103.3" y="852.3" width="9.5" height="9.5" fill="#ff2b0c"/>
<rect x="1114.2" y="875.3" width="9.5" height="9.5" fill="#ff2b0c"/>
<rect x="1116.7" y="878.4" width="9.5" height="9.5" fill="#ff2b0c"/>
<rect x="1074" y="881.6" width="9.5" height="9.5" fill="#ff2b0c"/>
<rect x="1090.6" y="888" width="9.5" height="9.5" fill="#ff2b0c"/>
<rect x="1102.1" y="888" width="9.5" height="9.5" fill="#ff2b0c"/>
<rect x="1105.3" y="895" width="9.5" height="9.5" fill="#ff2b0c"/>
<rect x="1125.3" y="891.9" width="9.5" height="9.5" fill="#ff2b0c"/>
<rect x="1091.9" y="911.6" width="9.5" height="9.5" fill="#ff2b0c"/>
<rect x="1100.1" y="911.6" width="9.5" height="9.5" fill="#ff2b0c"/>
<rect x="1113.6" y="911.6" width="9.5" height="9.5" fill="#ff2b0c"/>
<rect x="1073.3" y="928.2" width="9.5" height="9.5" fill="#ff2b0c"/>
<rect x="1086.1" y="925" width="9.5" height="9.5" fill="#ff2b0c"/>
<rect x="1119.9" y="925" width="9.5" height="9.5" fill="#ff2b0c"/>
<rect x="1132.1" y="921.9" width="9.5" height="9.5" fill="#ff2b0c"/>
<rect x="1148" y="928.2" width="9.5" height="9.5" fill="#ff2b0c"/>
<rect x="1182.5" y="928.2" width="9.5" height="9.5" fill="#ff2b0c"/>
<rect x="1176.7" y="937.8" width="9.5" height="9.5" fill="#ff2b0c"/>
<rect x="1026.1" y="934.6" width="9.5" height="9.5" fill="#ff2b0c"/>
<rect x="1144.8" y="958.2" width="9.5" height="9.5" fill="#ff2b0c"/>
<rect x="1058" y="977.4" width="9.5" height="9.5" fill="#ff2b0c"/>
<rect x="1148" y="997.8" width="9.5" height="9.5" fill="#ff2b0c"/>
<rect x="1104" y="1031" width="9.5" height="9.5" fill="#ff2b0c"/>
<line x1="934.3" y1="752.9" x2="934.3" y2="1086.8" stroke="#000" stroke-width="3.5" stroke-linecap="butt"/>
<line x1="932.5" y1="1085" x2="1266.3" y2="1085" stroke="#000" stroke-width="3.5" stroke-linecap="butt"/>
<line x1="924.5" y1="1085" x2="936" y2="1085" stroke="#000" stroke-width="3.5" stroke-linecap="butt"/>
<text x="923.7" y="1093.3" font-size="24" text-anchor="end" textLength="12.4" lengthAdjust="spacingAndGlyphs">0</text>
<line x1="924.5" y1="1018.9" x2="936" y2="1018.9" stroke="#000" stroke-width="3.5" stroke-linecap="butt"/>
<text x="923.7" y="1027.2" font-size="24" text-anchor="end" textLength="24.8" lengthAdjust="spacingAndGlyphs">20</text>
<line x1="924.5" y1="952.8" x2="936" y2="952.8" stroke="#000" stroke-width="3.5" stroke-linecap="butt"/>
<text x="923.7" y="961.1" font-size="24" text-anchor="end" textLength="24.8" lengthAdjust="spacingAndGlyphs">40</text>
<line x1="924.5" y1="886.8" x2="936" y2="886.8" stroke="#000" stroke-width="3.5" stroke-linecap="butt"/>
<text x="923.7" y="895.1" font-size="24" text-anchor="end" textLength="24.8" lengthAdjust="spacingAndGlyphs">60</text>
<line x1="924.5" y1="820.7" x2="936" y2="820.7" stroke="#000" stroke-width="3.5" stroke-linecap="butt"/>
<text x="923.7" y="829" font-size="24" text-anchor="end" textLength="24.8" lengthAdjust="spacingAndGlyphs">80</text>
<line x1="924.5" y1="754.6" x2="936" y2="754.6" stroke="#000" stroke-width="3.5" stroke-linecap="butt"/>
<text x="923.7" y="762.9" font-size="24" text-anchor="end" textLength="37.1" lengthAdjust="spacingAndGlyphs">100</text>
<line x1="934.3" y1="1083.2" x2="934.3" y2="1094.8" stroke="#000" stroke-width="3.5" stroke-linecap="butt"/>
<text x="934.3" y="1117" font-size="24" text-anchor="middle" textLength="12.4" lengthAdjust="spacingAndGlyphs">0</text>
<line x1="1016.9" y1="1083.2" x2="1016.9" y2="1094.8" stroke="#000" stroke-width="3.5" stroke-linecap="butt"/>
<text x="1016.9" y="1117" font-size="24" text-anchor="middle" textLength="24.8" lengthAdjust="spacingAndGlyphs">50</text>
<line x1="1099.5" y1="1083.2" x2="1099.5" y2="1094.8" stroke="#000" stroke-width="3.5" stroke-linecap="butt"/>
<text x="1099.5" y="1117" font-size="24" text-anchor="middle" textLength="37.1" lengthAdjust="spacingAndGlyphs">100</text>
<line x1="1182" y1="1083.2" x2="1182" y2="1094.8" stroke="#000" stroke-width="3.5" stroke-linecap="butt"/>
<text x="1182" y="1117" font-size="24" text-anchor="middle" textLength="37.1" lengthAdjust="spacingAndGlyphs">150</text>
<line x1="1264.6" y1="1083.2" x2="1264.6" y2="1094.8" stroke="#000" stroke-width="3.5" stroke-linecap="butt"/>
<text x="1264.6" y="1117" font-size="24" text-anchor="middle" textLength="37.1" lengthAdjust="spacingAndGlyphs">200</text>
<text x="873.6" y="917.7" font-size="24.8" text-anchor="middle" textLength="298.1" lengthAdjust="spacingAndGlyphs" transform="rotate(-90 873.6 917.7)">C1q concentration (ug/ml)</text>
<text x="1098.8" y="1152.9" font-size="25.2" text-anchor="middle" textLength="121.5" lengthAdjust="spacingAndGlyphs">CAP score</text>
<text x="1016.6" y="774.2" font-size="32.1" text-anchor="middle" textLength="135.9" lengthAdjust="spacingAndGlyphs">R = 0.011</text>
<text x="1016.6" y="811" font-size="32.1" text-anchor="middle" textLength="135.9" lengthAdjust="spacingAndGlyphs" xml:space="preserve"><tspan font-style="italic">P</tspan><tspan> = 0.932</tspan></text>
<circle cx="1234.3" cy="1055.7" r="4.6" fill="#f4a0ac"/>
<rect x="1229.5" y="1068.5" width="9.5" height="9.5" fill="#ff2b0c"/>
<text x="1263.6" y="1061" font-size="15.7" font-weight="normal" class="n" textLength="107.4" lengthAdjust="spacingAndGlyphs">Premanifest HD</text>
<text x="1263.6" y="1078.6" font-size="15.7" font-weight="normal" class="n" textLength="122.8" lengthAdjust="spacingAndGlyphs">Early manifest HD</text>
<text x="1720.2" y="673.1" font-size="36.4" text-anchor="middle" textLength="451.1" lengthAdjust="spacingAndGlyphs">Premanifest HD CAP score</text>
<text x="1719.3" y="715.4" font-size="36.4" text-anchor="middle" textLength="369.6" lengthAdjust="spacingAndGlyphs">vs Plasma C1q Levels</text>
<circle cx="1605.6" cy="783.6" r="5" fill="#f28a80"/>
<circle cx="1685.7" cy="803.9" r="5" fill="#f28a80"/>
<circle cx="1779.7" cy="853.9" r="5" fill="#f28a80"/>
<circle cx="1623.8" cy="861" r="5" fill="#f28a80"/>
<circle cx="1643.1" cy="861" r="5" fill="#f28a80"/>
<circle cx="1596.4" cy="873.8" r="5" fill="#f28a80"/>
<circle cx="1683.6" cy="870.8" r="5" fill="#f28a80"/>
<circle cx="1628.8" cy="877.4" r="5" fill="#f28a80"/>
<circle cx="1680.9" cy="884.2" r="5" fill="#f28a80"/>
<circle cx="1625.8" cy="887.5" r="5" fill="#f28a80"/>
<circle cx="1716.6" cy="887.5" r="5" fill="#f28a80"/>
<circle cx="1572.6" cy="897.3" r="5" fill="#f28a80"/>
<circle cx="1686.5" cy="897.3" r="5" fill="#f28a80"/>
<circle cx="1624.9" cy="900.9" r="5" fill="#f28a80"/>
<circle cx="1668.1" cy="904.2" r="5" fill="#f28a80"/>
<circle cx="1710.4" cy="904.2" r="5" fill="#f28a80"/>
<circle cx="1715.1" cy="900.9" r="5" fill="#f28a80"/>
<circle cx="1580" cy="917.6" r="5" fill="#f28a80"/>
<circle cx="1688.6" cy="924.1" r="5" fill="#f28a80"/>
<circle cx="1720.8" cy="927.7" r="5" fill="#f28a80"/>
<circle cx="1627" cy="931" r="5" fill="#f28a80"/>
<circle cx="1574.9" cy="937.5" r="5" fill="#f28a80"/>
<circle cx="1596.7" cy="937.5" r="5" fill="#f28a80"/>
<circle cx="1692.2" cy="934.5" r="5" fill="#f28a80"/>
<circle cx="1699.6" cy="934.5" r="5" fill="#f28a80"/>
<circle cx="1700.2" cy="938.1" r="5" fill="#f28a80"/>
<circle cx="1618.7" cy="941.1" r="5" fill="#f28a80"/>
<circle cx="1640.7" cy="947.6" r="5" fill="#f28a80"/>
<circle cx="1683.9" cy="947.6" r="5" fill="#f28a80"/>
<circle cx="1631.5" cy="954.5" r="5" fill="#f28a80"/>
<circle cx="1669.3" cy="964.6" r="5" fill="#f28a80"/>
<line x1="1482" y1="747.9" x2="1482" y2="1086.9" stroke="#000" stroke-width="3.7" stroke-linecap="butt"/>
<line x1="1480.2" y1="1085.1" x2="1819.3" y2="1085.1" stroke="#000" stroke-width="3.7" stroke-linecap="butt"/>
<line x1="1472.2" y1="1085.1" x2="1483.8" y2="1085.1" stroke="#000" stroke-width="3.7" stroke-linecap="butt"/>
<text x="1471.4" y="1092.2" font-size="20.5" text-anchor="end" textLength="10.6" lengthAdjust="spacingAndGlyphs">0</text>
<line x1="1472.2" y1="1018" x2="1483.8" y2="1018" stroke="#000" stroke-width="3.7" stroke-linecap="butt"/>
<text x="1471.4" y="1025.1" font-size="20.5" text-anchor="end" textLength="21.1" lengthAdjust="spacingAndGlyphs">20</text>
<line x1="1472.2" y1="950.9" x2="1483.8" y2="950.9" stroke="#000" stroke-width="3.7" stroke-linecap="butt"/>
<text x="1471.4" y="958" font-size="20.5" text-anchor="end" textLength="21.1" lengthAdjust="spacingAndGlyphs">40</text>
<line x1="1472.2" y1="883.9" x2="1483.8" y2="883.9" stroke="#000" stroke-width="3.7" stroke-linecap="butt"/>
<text x="1471.4" y="890.9" font-size="20.5" text-anchor="end" textLength="21.1" lengthAdjust="spacingAndGlyphs">60</text>
<line x1="1472.2" y1="816.8" x2="1483.8" y2="816.8" stroke="#000" stroke-width="3.7" stroke-linecap="butt"/>
<text x="1471.4" y="823.9" font-size="20.5" text-anchor="end" textLength="21.1" lengthAdjust="spacingAndGlyphs">80</text>
<line x1="1472.2" y1="749.7" x2="1483.8" y2="749.7" stroke="#000" stroke-width="3.7" stroke-linecap="butt"/>
<text x="1471.4" y="756.8" font-size="20.5" text-anchor="end" textLength="31.7" lengthAdjust="spacingAndGlyphs">100</text>
<line x1="1482" y1="1083.2" x2="1482" y2="1094.9" stroke="#000" stroke-width="3.7" stroke-linecap="butt"/>
<text x="1482" y="1113.4" font-size="20.5" text-anchor="middle" textLength="10.6" lengthAdjust="spacingAndGlyphs">0</text>
<line x1="1593.8" y1="1083.2" x2="1593.8" y2="1094.9" stroke="#000" stroke-width="3.7" stroke-linecap="butt"/>
<text x="1593.8" y="1113.4" font-size="20.5" text-anchor="middle" textLength="21.1" lengthAdjust="spacingAndGlyphs">50</text>
<line x1="1705.7" y1="1083.2" x2="1705.7" y2="1094.9" stroke="#000" stroke-width="3.7" stroke-linecap="butt"/>
<text x="1705.7" y="1113.4" font-size="20.5" text-anchor="middle" textLength="31.7" lengthAdjust="spacingAndGlyphs">100</text>
<line x1="1817.5" y1="1083.2" x2="1817.5" y2="1094.9" stroke="#000" stroke-width="3.7" stroke-linecap="butt"/>
<text x="1817.5" y="1113.4" font-size="20.5" text-anchor="middle" textLength="31.7" lengthAdjust="spacingAndGlyphs">150</text>
<text x="1431" y="916.2" font-size="24.9" text-anchor="middle" textLength="299.8" lengthAdjust="spacingAndGlyphs" transform="rotate(-90 1431 916.2)">C1q concentration (ug/ml)</text>
<text x="1649.5" y="1147.6" font-size="25.2" text-anchor="middle" textLength="122" lengthAdjust="spacingAndGlyphs">CAP score</text>
<text x="1565.8" y="774.2" font-size="32.1" text-anchor="middle" textLength="135.7" lengthAdjust="spacingAndGlyphs">R = 0.018</text>
<text x="1565.8" y="812.3" font-size="32.1" text-anchor="middle" textLength="135.7" lengthAdjust="spacingAndGlyphs" xml:space="preserve"><tspan font-style="italic">P</tspan><tspan> = 0.922</tspan></text>
<text x="31.1" y="1208.3" font-size="68" text-anchor="middle" font-family="Carlito, 'Noto Sans CJK JP', 'Liberation Sans', sans-serif">e</text>
<text x="372.9" y="1187.5" font-size="36.4" text-anchor="middle" textLength="521" lengthAdjust="spacingAndGlyphs">Age at different disease stages</text>
<path d="M143 1652.5V1470H261.5V1652.5" fill="#fff" stroke="#8c8c8c" stroke-width="3"/>
<path d="M324 1652.5V1434.6H441.5V1652.5" fill="#fff" stroke="#b4b4b4" stroke-width="3"/>
<path d="M504.5 1652.5V1371.7H622.5V1652.5" fill="#fff" stroke="#999999" stroke-width="3"/>
<circle cx="195.4" cy="1382.5" r="4.6" fill="#f7923a"/>
<circle cx="207.9" cy="1388.3" r="4.6" fill="#f7923a"/>
<circle cx="201.7" cy="1411.7" r="4.6" fill="#f7923a"/>
<circle cx="201.7" cy="1462.9" r="4.6" fill="#f7923a"/>
<circle cx="176.7" cy="1474.2" r="4.6" fill="#f7923a"/>
<circle cx="220.8" cy="1473.3" r="4.6" fill="#f7923a"/>
<circle cx="189.2" cy="1481.7" r="4.6" fill="#f7923a"/>
<circle cx="207.9" cy="1479.6" r="4.6" fill="#f7923a"/>
<circle cx="195.4" cy="1493.3" r="4.6" fill="#f7923a"/>
<circle cx="207.9" cy="1503.3" r="4.6" fill="#f7923a"/>
<circle cx="189.2" cy="1517.1" r="4.6" fill="#f7923a"/>
<circle cx="201.7" cy="1522.5" r="4.6" fill="#f7923a"/>
<circle cx="214.6" cy="1520" r="4.6" fill="#f7923a"/>
<rect x="378" y="1318" width="9" height="9" fill="#f046e4"/>
<rect x="378" y="1355.1" width="9" height="9" fill="#f046e4"/>
<rect x="371.8" y="1373" width="9" height="9" fill="#f046e4"/>
<rect x="384.2" y="1368.8" width="9" height="9" fill="#f046e4"/>
<rect x="378" y="1388.4" width="9" height="9" fill="#f046e4"/>
<rect x="365.5" y="1396.3" width="9" height="9" fill="#f046e4"/>
<rect x="378" y="1408.4" width="9" height="9" fill="#f046e4"/>
<rect x="390.5" y="1406.3" width="9" height="9" fill="#f046e4"/>
<rect x="371.8" y="1413.4" width="9" height="9" fill="#f046e4"/>
<rect x="390.5" y="1424.7" width="9" height="9" fill="#f046e4"/>
<rect x="384.2" y="1433.8" width="9" height="9" fill="#f046e4"/>
<rect x="371.8" y="1437.2" width="9" height="9" fill="#f046e4"/>
<rect x="378" y="1475.5" width="9" height="9" fill="#f046e4"/>
<rect x="384.2" y="1487.6" width="9" height="9" fill="#f046e4"/>
<rect x="371.8" y="1494.7" width="9" height="9" fill="#f046e4"/>
<rect x="378" y="1507.2" width="9" height="9" fill="#f046e4"/>
<rect x="384.2" y="1523" width="9" height="9" fill="#f046e4"/>
<rect x="371.8" y="1531.3" width="9" height="9" fill="#f046e4"/>
<path d="M563.3 1287.9L568.3 1296.9L558.3 1296.9Z" fill="#1636dc"/>
<path d="M550.8 1293.8L555.8 1302.8L545.8 1302.8Z" fill="#1636dc"/>
<path d="M575.8 1292.1L580.8 1301.1L570.8 1301.1Z" fill="#1636dc"/>
<path d="M563.3 1302.9L568.3 1311.9L558.3 1311.9Z" fill="#1636dc"/>
<path d="M544.6 1320L549.6 1329L539.6 1329Z" fill="#1636dc"/>
<path d="M557.1 1322.9L562.1 1331.9L552.1 1331.9Z" fill="#1636dc"/>
<path d="M569.6 1322.1L574.6 1331.1L564.6 1331.1Z" fill="#1636dc"/>
<path d="M582.1 1318.8L587.1 1327.8L577.1 1327.8Z" fill="#1636dc"/>
<path d="M538.3 1340L543.3 1349L533.3 1349Z" fill="#1636dc"/>
<path d="M550.8 1347.1L555.8 1356.1L545.8 1356.1Z" fill="#1636dc"/>
<path d="M563.3 1338.8L568.3 1347.8L558.3 1347.8Z" fill="#1636dc"/>
<path d="M575.8 1347.1L580.8 1356.1L570.8 1356.1Z" fill="#1636dc"/>
<path d="M588.3 1345L593.3 1354L583.3 1354Z" fill="#1636dc"/>
<path d="M563.3 1351.3L568.3 1360.3L558.3 1360.3Z" fill="#1636dc"/>
<path d="M544.6 1361.7L549.6 1370.7L539.6 1370.7Z" fill="#1636dc"/>
<path d="M557.1 1363.8L562.1 1372.8L552.1 1372.8Z" fill="#1636dc"/>
<path d="M569.6 1361.7L574.6 1370.7L564.6 1370.7Z" fill="#1636dc"/>
<path d="M582.1 1363.8L587.1 1372.8L577.1 1372.8Z" fill="#1636dc"/>
<path d="M538.3 1376.3L543.3 1385.3L533.3 1385.3Z" fill="#1636dc"/>
<path d="M550.8 1379.6L555.8 1388.6L545.8 1388.6Z" fill="#1636dc"/>
<path d="M563.3 1373.3L568.3 1382.3L558.3 1382.3Z" fill="#1636dc"/>
<path d="M575.8 1375.4L580.8 1384.4L570.8 1384.4Z" fill="#1636dc"/>
<path d="M588.3 1377.5L593.3 1386.5L583.3 1386.5Z" fill="#1636dc"/>
<path d="M563.3 1387.9L568.3 1396.9L558.3 1396.9Z" fill="#1636dc"/>
<path d="M575.8 1385.8L580.8 1394.8L570.8 1394.8Z" fill="#1636dc"/>
<path d="M544.6 1404.6L549.6 1413.6L539.6 1413.6Z" fill="#1636dc"/>
<path d="M557.1 1411.7L562.1 1420.7L552.1 1420.7Z" fill="#1636dc"/>
<path d="M569.6 1412.9L574.6 1421.9L564.6 1421.9Z" fill="#1636dc"/>
<path d="M582.1 1405.4L587.1 1414.4L577.1 1414.4Z" fill="#1636dc"/>
<path d="M550.8 1419.2L555.8 1428.2L545.8 1428.2Z" fill="#1636dc"/>
<path d="M557.1 1437.5L562.1 1446.5L552.1 1446.5Z" fill="#1636dc"/>
<path d="M569.6 1431.3L574.6 1440.3L564.6 1440.3Z" fill="#1636dc"/>
<path d="M569.6 1447.9L574.6 1456.9L564.6 1456.9Z" fill="#1636dc"/>
<path d="M563.3 1476.3L568.3 1485.3L558.3 1485.3Z" fill="#1636dc"/>
<line x1="201.7" y1="1457.1" x2="201.7" y2="1483.3" stroke="#f7923a" stroke-width="1.7" stroke-linecap="butt"/>
<line x1="170.9" y1="1457.1" x2="232.5" y2="1457.1" stroke="#f7923a" stroke-width="1.7" stroke-linecap="butt"/>
<line x1="170.9" y1="1483.3" x2="232.5" y2="1483.3" stroke="#f7923a" stroke-width="1.7" stroke-linecap="butt"/>
<line x1="382.5" y1="1420" x2="382.5" y2="1449.2" stroke="#f046e4" stroke-width="1.7" stroke-linecap="butt"/>
<line x1="351.7" y1="1420" x2="413.3" y2="1420" stroke="#f046e4" stroke-width="1.7" stroke-linecap="butt"/>
<line x1="351.7" y1="1449.2" x2="413.3" y2="1449.2" stroke="#f046e4" stroke-width="1.7" stroke-linecap="butt"/>
<line x1="563.3" y1="1363.8" x2="563.3" y2="1380" stroke="#1636dc" stroke-width="1.7" stroke-linecap="butt"/>
<line x1="533.1" y1="1363.8" x2="593.5" y2="1363.8" stroke="#1636dc" stroke-width="1.7" stroke-linecap="butt"/>
<line x1="533.1" y1="1380" x2="593.5" y2="1380" stroke="#1636dc" stroke-width="1.7" stroke-linecap="butt"/>
<line x1="81.6" y1="1240.5" x2="81.6" y2="1652.5" stroke="#000" stroke-width="3" stroke-linecap="butt"/>
<line x1="73" y1="1652.5" x2="684.2" y2="1652.5" stroke="#000" stroke-width="3" stroke-linecap="butt"/>
<line x1="73.6" y1="1652.5" x2="83.1" y2="1652.5" stroke="#000" stroke-width="3" stroke-linecap="butt"/>
<text x="72.8" y="1659.5" font-size="20.2" text-anchor="end" textLength="10.6" lengthAdjust="spacingAndGlyphs">0</text>
<line x1="73.6" y1="1549.9" x2="83.1" y2="1549.9" stroke="#000" stroke-width="3" stroke-linecap="butt"/>
<text x="72.8" y="1556.9" font-size="20.2" text-anchor="end" textLength="21.3" lengthAdjust="spacingAndGlyphs">20</text>
<line x1="73.6" y1="1447.3" x2="83.1" y2="1447.3" stroke="#000" stroke-width="3" stroke-linecap="butt"/>
<text x="72.8" y="1454.3" font-size="20.2" text-anchor="end" textLength="21.3" lengthAdjust="spacingAndGlyphs">40</text>
<line x1="73.6" y1="1344.7" x2="83.1" y2="1344.7" stroke="#000" stroke-width="3" stroke-linecap="butt"/>
<text x="72.8" y="1351.7" font-size="20.2" text-anchor="end" textLength="21.3" lengthAdjust="spacingAndGlyphs">60</text>
<line x1="73.6" y1="1242.1" x2="83.1" y2="1242.1" stroke="#000" stroke-width="3" stroke-linecap="butt"/>
<text x="72.8" y="1249.1" font-size="20.2" text-anchor="end" textLength="21.3" lengthAdjust="spacingAndGlyphs">80</text>
<line x1="201.7" y1="1652.5" x2="201.7" y2="1660.5" stroke="#000" stroke-width="3" stroke-linecap="butt"/>
<line x1="382.5" y1="1652.5" x2="382.5" y2="1660.5" stroke="#000" stroke-width="3" stroke-linecap="butt"/>
<line x1="563.3" y1="1652.5" x2="563.3" y2="1660.5" stroke="#000" stroke-width="3" stroke-linecap="butt"/>
<text x="199.2" y="1679.6" font-size="19.7" text-anchor="middle" textLength="159.5" lengthAdjust="spacingAndGlyphs">Early premanifest</text>
<text x="380" y="1679.6" font-size="19.7" text-anchor="middle" textLength="152" lengthAdjust="spacingAndGlyphs">Late premanifest</text>
<text x="560.8" y="1679.6" font-size="19.7" text-anchor="middle" textLength="129.9" lengthAdjust="spacingAndGlyphs">Early manifest</text>
<text x="199.2" y="1701.7" font-size="19.7" text-anchor="middle" textLength="27.4" lengthAdjust="spacingAndGlyphs">HD</text>
<text x="380" y="1701.7" font-size="19.7" text-anchor="middle" textLength="27.4" lengthAdjust="spacingAndGlyphs">HD</text>
<text x="560.8" y="1701.7" font-size="19.7" text-anchor="middle" textLength="27.4" lengthAdjust="spacingAndGlyphs">HD</text>
<text x="40.5" y="1446.3" font-size="20.4" text-anchor="middle" textLength="67.2" lengthAdjust="spacingAndGlyphs" transform="rotate(-90 40.5 1446.3)">Age (y)</text>
<line x1="223" y1="1242" x2="562.5" y2="1242" stroke="#000" stroke-width="5.5" stroke-linecap="butt"/>
<text x="387" y="1231.8" font-size="32.1" text-anchor="middle" textLength="213.2" lengthAdjust="spacingAndGlyphs" xml:space="preserve"><tspan>*** </tspan><tspan font-style="italic">P</tspan><tspan> = &lt;0.0001</tspan></text>
<line x1="213.8" y1="1285" x2="378" y2="1285" stroke="#000" stroke-width="5.5" stroke-linecap="butt"/>
<line x1="398.8" y1="1285" x2="562.5" y2="1285" stroke="#000" stroke-width="5.5" stroke-linecap="butt"/>
<text x="303.4" y="1277.7" font-size="32.1" text-anchor="middle" textLength="134.5" lengthAdjust="spacingAndGlyphs" xml:space="preserve"><tspan font-style="italic">P</tspan><tspan> = 0.527</tspan></text>
<text x="471.9" y="1277.7" font-size="32.1" text-anchor="middle" textLength="165.8" lengthAdjust="spacingAndGlyphs" xml:space="preserve"><tspan>** </tspan><tspan font-style="italic">P</tspan><tspan> = 0.003</tspan></text>
<text x="700.8" y="1209.3" font-size="68" text-anchor="middle" font-family="Carlito, 'Noto Sans CJK JP', 'Liberation Sans', sans-serif">f</text>
<text x="1048" y="1193.4" font-size="36.4" text-anchor="middle" textLength="502.9" lengthAdjust="spacingAndGlyphs">CAG repeat length at different</text>
<text x="1052.8" y="1235.8" font-size="36.4" text-anchor="middle" textLength="252" lengthAdjust="spacingAndGlyphs">disease stages</text>
<path d="M813.5 1652.4V1525.7H932V1652.4" fill="#fff" stroke="#8c8c8c" stroke-width="3"/>
<path d="M994 1652.4V1478.4H1112.5V1652.4" fill="#fff" stroke="#b4b4b4" stroke-width="3"/>
<path d="M1175 1652.4V1496.6H1293.5V1652.4" fill="#fff" stroke="#999999" stroke-width="3"/>
<circle cx="872.7" cy="1488.1" r="4.6" fill="#f7923a"/>
<circle cx="853.6" cy="1509.1" r="4.6" fill="#f7923a"/>
<circle cx="866.2" cy="1509.1" r="4.6" fill="#f7923a"/>
<circle cx="878.7" cy="1509.1" r="4.6" fill="#f7923a"/>
<circle cx="891.3" cy="1509.1" r="4.6" fill="#f7923a"/>
<circle cx="853.6" cy="1529.4" r="4.6" fill="#f7923a"/>
<circle cx="866.2" cy="1529.4" r="4.6" fill="#f7923a"/>
<circle cx="878.7" cy="1529.4" r="4.6" fill="#f7923a"/>
<circle cx="891.3" cy="1529.4" r="4.6" fill="#f7923a"/>
<circle cx="853.6" cy="1550" r="4.6" fill="#f7923a"/>
<circle cx="866.2" cy="1550" r="4.6" fill="#f7923a"/>
<circle cx="878.7" cy="1550" r="4.6" fill="#f7923a"/>
<circle cx="891.3" cy="1550" r="4.6" fill="#f7923a"/>
<rect x="1042.6" y="1401.8" width="9" height="9" fill="#f046e4"/>
<rect x="1054.8" y="1401.8" width="9" height="9" fill="#f046e4"/>
<rect x="1048.7" y="1422.5" width="9" height="9" fill="#f046e4"/>
<rect x="1036.1" y="1443.1" width="9" height="9" fill="#f046e4"/>
<rect x="1048.7" y="1443.1" width="9" height="9" fill="#f046e4"/>
<rect x="1061.2" y="1443.1" width="9" height="9" fill="#f046e4"/>
<rect x="1030.1" y="1463.4" width="9" height="9" fill="#f046e4"/>
<rect x="1042.6" y="1463.4" width="9" height="9" fill="#f046e4"/>
<rect x="1054.8" y="1463.4" width="9" height="9" fill="#f046e4"/>
<rect x="1067.3" y="1463.4" width="9" height="9" fill="#f046e4"/>
<rect x="1042.6" y="1483.6" width="9" height="9" fill="#f046e4"/>
<rect x="1054.8" y="1483.6" width="9" height="9" fill="#f046e4"/>
<rect x="1042.6" y="1504.6" width="9" height="9" fill="#f046e4"/>
<rect x="1054.8" y="1504.6" width="9" height="9" fill="#f046e4"/>
<rect x="1023.6" y="1524.9" width="9" height="9" fill="#f046e4"/>
<rect x="1036.1" y="1524.9" width="9" height="9" fill="#f046e4"/>
<rect x="1048.7" y="1524.9" width="9" height="9" fill="#f046e4"/>
<rect x="1061.2" y="1524.9" width="9" height="9" fill="#f046e4"/>
<rect x="1073.8" y="1524.9" width="9" height="9" fill="#f046e4"/>
<path d="M1233.7 1339.8L1238.7 1348.8L1228.7 1348.8Z" fill="#1636dc"/>
<path d="M1221.2 1442.2L1226.2 1451.2L1216.2 1451.2Z" fill="#1636dc"/>
<path d="M1233.7 1442.2L1238.7 1451.2L1228.7 1451.2Z" fill="#1636dc"/>
<path d="M1246.3 1442.2L1251.3 1451.2L1241.3 1451.2Z" fill="#1636dc"/>
<path d="M1208.6 1462.5L1213.6 1471.5L1203.6 1471.5Z" fill="#1636dc"/>
<path d="M1221.2 1462.5L1226.2 1471.5L1216.2 1471.5Z" fill="#1636dc"/>
<path d="M1233.7 1462.5L1238.7 1471.5L1228.7 1471.5Z" fill="#1636dc"/>
<path d="M1246.3 1462.5L1251.3 1471.5L1241.3 1471.5Z" fill="#1636dc"/>
<path d="M1258.8 1462.5L1263.8 1471.5L1253.8 1471.5Z" fill="#1636dc"/>
<path d="M1190 1482.7L1195 1491.7L1185 1491.7Z" fill="#1636dc"/>
<path d="M1202.5 1482.7L1207.5 1491.7L1197.5 1491.7Z" fill="#1636dc"/>
<path d="M1215.1 1482.7L1220.1 1491.7L1210.1 1491.7Z" fill="#1636dc"/>
<path d="M1227.2 1482.7L1232.2 1491.7L1222.2 1491.7Z" fill="#1636dc"/>
<path d="M1239.8 1482.7L1244.8 1491.7L1234.8 1491.7Z" fill="#1636dc"/>
<path d="M1252.3 1482.7L1257.3 1491.7L1247.3 1491.7Z" fill="#1636dc"/>
<path d="M1264.9 1482.7L1269.9 1491.7L1259.9 1491.7Z" fill="#1636dc"/>
<path d="M1277.4 1482.7L1282.4 1491.7L1272.4 1491.7Z" fill="#1636dc"/>
<path d="M1208.6 1503.7L1213.6 1512.7L1203.6 1512.7Z" fill="#1636dc"/>
<path d="M1221.2 1503.7L1226.2 1512.7L1216.2 1512.7Z" fill="#1636dc"/>
<path d="M1233.7 1503.7L1238.7 1512.7L1228.7 1512.7Z" fill="#1636dc"/>
<path d="M1246.3 1503.7L1251.3 1512.7L1241.3 1512.7Z" fill="#1636dc"/>
<path d="M1258.8 1503.7L1263.8 1512.7L1253.8 1512.7Z" fill="#1636dc"/>
<path d="M1196.1 1524L1201.1 1533L1191.1 1533Z" fill="#1636dc"/>
<path d="M1208.6 1524L1213.6 1533L1203.6 1533Z" fill="#1636dc"/>
<path d="M1221.2 1524L1226.2 1533L1216.2 1533Z" fill="#1636dc"/>
<path d="M1233.7 1524L1238.7 1533L1228.7 1533Z" fill="#1636dc"/>
<path d="M1246.3 1524L1251.3 1533L1241.3 1533Z" fill="#1636dc"/>
<path d="M1258.8 1524L1263.8 1533L1253.8 1533Z" fill="#1636dc"/>
<path d="M1271.4 1524L1276.4 1533L1266.4 1533Z" fill="#1636dc"/>
<path d="M1233.7 1544.6L1238.7 1553.6L1228.7 1553.6Z" fill="#1636dc"/>
<path d="M1233.7 1565.7L1238.7 1574.7L1228.7 1574.7Z" fill="#1636dc"/>
<path d="M1233.7 1606.1L1238.7 1615.1L1228.7 1615.1Z" fill="#1636dc"/>
<line x1="872.7" y1="1520.5" x2="872.7" y2="1531.8" stroke="#f7923a" stroke-width="1.7" stroke-linecap="butt"/>
<line x1="841.9" y1="1520.5" x2="903.5" y2="1520.5" stroke="#f7923a" stroke-width="1.7" stroke-linecap="butt"/>
<line x1="841.9" y1="1531.8" x2="903.5" y2="1531.8" stroke="#f7923a" stroke-width="1.7" stroke-linecap="butt"/>
<line x1="1052.8" y1="1468.7" x2="1052.8" y2="1488.1" stroke="#f046e4" stroke-width="1.7" stroke-linecap="butt"/>
<line x1="1021.8" y1="1468.7" x2="1083.8" y2="1468.7" stroke="#f046e4" stroke-width="1.7" stroke-linecap="butt"/>
<line x1="1021.8" y1="1488.1" x2="1083.8" y2="1488.1" stroke="#f046e4" stroke-width="1.7" stroke-linecap="butt"/>
<line x1="1233.7" y1="1488.9" x2="1233.7" y2="1505.5" stroke="#1636dc" stroke-width="1.7" stroke-linecap="butt"/>
<line x1="1202.3" y1="1488.9" x2="1265.1" y2="1488.9" stroke="#1636dc" stroke-width="1.7" stroke-linecap="butt"/>
<line x1="1202.3" y1="1505.5" x2="1265.1" y2="1505.5" stroke="#1636dc" stroke-width="1.7" stroke-linecap="butt"/>
<line x1="752" y1="1239.7" x2="752" y2="1652.4" stroke="#000" stroke-width="3" stroke-linecap="butt"/>
<line x1="744.8" y1="1652.4" x2="1354.5" y2="1652.4" stroke="#000" stroke-width="3" stroke-linecap="butt"/>
<line x1="744" y1="1652.4" x2="753.5" y2="1652.4" stroke="#000" stroke-width="3" stroke-linecap="butt"/>
<text x="743.2" y="1659.4" font-size="20.2" text-anchor="end" textLength="21.3" lengthAdjust="spacingAndGlyphs">35</text>
<line x1="744" y1="1549.6" x2="753.5" y2="1549.6" stroke="#000" stroke-width="3" stroke-linecap="butt"/>
<text x="743.2" y="1556.6" font-size="20.2" text-anchor="end" textLength="21.3" lengthAdjust="spacingAndGlyphs">40</text>
<line x1="744" y1="1446.8" x2="753.5" y2="1446.8" stroke="#000" stroke-width="3" stroke-linecap="butt"/>
<text x="743.2" y="1453.8" font-size="20.2" text-anchor="end" textLength="21.3" lengthAdjust="spacingAndGlyphs">45</text>
<line x1="744" y1="1344" x2="753.5" y2="1344" stroke="#000" stroke-width="3" stroke-linecap="butt"/>
<text x="743.2" y="1351" font-size="20.2" text-anchor="end" textLength="21.3" lengthAdjust="spacingAndGlyphs">50</text>
<line x1="744" y1="1241.2" x2="753.5" y2="1241.2" stroke="#000" stroke-width="3" stroke-linecap="butt"/>
<text x="743.2" y="1248.2" font-size="20.2" text-anchor="end" textLength="21.3" lengthAdjust="spacingAndGlyphs">55</text>
<line x1="872.7" y1="1652.4" x2="872.7" y2="1660.4" stroke="#000" stroke-width="3" stroke-linecap="butt"/>
<line x1="1052.8" y1="1652.4" x2="1052.8" y2="1660.4" stroke="#000" stroke-width="3" stroke-linecap="butt"/>
<line x1="1233.7" y1="1652.4" x2="1233.7" y2="1660.4" stroke="#000" stroke-width="3" stroke-linecap="butt"/>
<text x="870.2" y="1679.3" font-size="19.7" text-anchor="middle" textLength="159.5" lengthAdjust="spacingAndGlyphs">Early premanifest</text>
<text x="1050.3" y="1679.3" font-size="19.7" text-anchor="middle" textLength="152" lengthAdjust="spacingAndGlyphs">Late premanifest</text>
<text x="1231.2" y="1679.3" font-size="19.7" text-anchor="middle" textLength="129.9" lengthAdjust="spacingAndGlyphs">Early manifest</text>
<text x="870.2" y="1701.5" font-size="19.7" text-anchor="middle" textLength="27.4" lengthAdjust="spacingAndGlyphs">HD</text>
<text x="1050.3" y="1701.5" font-size="19.7" text-anchor="middle" textLength="27.4" lengthAdjust="spacingAndGlyphs">HD</text>
<text x="1231.2" y="1701.5" font-size="19.7" text-anchor="middle" textLength="27.4" lengthAdjust="spacingAndGlyphs">HD</text>
<text x="710.9" y="1445.6" font-size="20.5" text-anchor="middle" textLength="174.6" lengthAdjust="spacingAndGlyphs" transform="rotate(-90 710.9 1445.6)">CAG repeat length</text>
<line x1="877.5" y1="1324.2" x2="1216.3" y2="1324.2" stroke="#000" stroke-width="5.5" stroke-linecap="butt"/>
<text x="1040.8" y="1313" font-size="32.1" text-anchor="middle" textLength="153.7" lengthAdjust="spacingAndGlyphs" xml:space="preserve"><tspan>* </tspan><tspan font-style="italic">P</tspan><tspan> = 0.004</tspan></text>
<line x1="879.6" y1="1382.9" x2="1043" y2="1382.9" stroke="#000" stroke-width="5.5" stroke-linecap="butt"/>
<line x1="1061.7" y1="1382.9" x2="1225.2" y2="1382.9" stroke="#000" stroke-width="5.5" stroke-linecap="butt"/>
<text x="952" y="1372.5" font-size="32.1" text-anchor="middle" textLength="167.2" lengthAdjust="spacingAndGlyphs" xml:space="preserve"><tspan>** </tspan><tspan font-style="italic">P</tspan><tspan> = 0.002</tspan></text>
<text x="1145.5" y="1372.5" font-size="32.1" text-anchor="middle" textLength="134.8" lengthAdjust="spacingAndGlyphs" xml:space="preserve"><tspan font-style="italic">P</tspan><tspan> = 0.497</tspan></text>
<text x="1354.3" y="1197.7" font-size="68" text-anchor="middle" font-family="Carlito, 'Noto Sans CJK JP', 'Liberation Sans', sans-serif">g</text>
<text x="1682.7" y="1193.4" font-size="36.4" text-anchor="middle" textLength="371.3" lengthAdjust="spacingAndGlyphs">CAP score at different</text>
<text x="1687.5" y="1235.8" font-size="36.4" text-anchor="middle" textLength="249.9" lengthAdjust="spacingAndGlyphs">disease stages</text>
<path d="M1500 1654.9V1524.5H1618V1654.9" fill="#fff" stroke="#8c8c8c" stroke-width="3"/>
<path d="M1680.5 1654.9V1471H1799V1654.9" fill="#fff" stroke="#b4b4b4" stroke-width="3"/>
<path d="M1861.5 1654.9V1433.4H1979.5V1654.9" fill="#fff" stroke="#999999" stroke-width="3"/>
<circle cx="1565.5" cy="1482" r="4.6" fill="#f7923a"/>
<circle cx="1552.5" cy="1486.1" r="4.6" fill="#f7923a"/>
<circle cx="1546" cy="1500.6" r="4.6" fill="#f7923a"/>
<circle cx="1571.9" cy="1500.6" r="4.6" fill="#f7923a"/>
<circle cx="1559" cy="1509.1" r="4.6" fill="#f7923a"/>
<circle cx="1552.5" cy="1522.5" r="4.6" fill="#f7923a"/>
<circle cx="1565.5" cy="1522.5" r="4.6" fill="#f7923a"/>
<circle cx="1546" cy="1529" r="4.6" fill="#f7923a"/>
<circle cx="1571.9" cy="1529" r="4.6" fill="#f7923a"/>
<circle cx="1559" cy="1540.3" r="4.6" fill="#f7923a"/>
<circle cx="1546" cy="1559.7" r="4.6" fill="#f7923a"/>
<circle cx="1571.9" cy="1563.8" r="4.6" fill="#f7923a"/>
<circle cx="1559" cy="1569.9" r="4.6" fill="#f7923a"/>
<rect x="1735.4" y="1382.8" width="9" height="9" fill="#f046e4"/>
<rect x="1728.9" y="1418.8" width="9" height="9" fill="#f046e4"/>
<rect x="1741.9" y="1431" width="9" height="9" fill="#f046e4"/>
<rect x="1709.9" y="1440.7" width="9" height="9" fill="#f046e4"/>
<rect x="1722.9" y="1444.7" width="9" height="9" fill="#f046e4"/>
<rect x="1767" y="1441.5" width="9" height="9" fill="#f046e4"/>
<rect x="1735.4" y="1450.4" width="9" height="9" fill="#f046e4"/>
<rect x="1754.4" y="1450.4" width="9" height="9" fill="#f046e4"/>
<rect x="1748.4" y="1457.3" width="9" height="9" fill="#f046e4"/>
<rect x="1722.9" y="1464.6" width="9" height="9" fill="#f046e4"/>
<rect x="1735.4" y="1467.8" width="9" height="9" fill="#f046e4"/>
<rect x="1741.9" y="1484.4" width="9" height="9" fill="#f046e4"/>
<rect x="1728.9" y="1489.3" width="9" height="9" fill="#f046e4"/>
<rect x="1735.4" y="1505.9" width="9" height="9" fill="#f046e4"/>
<rect x="1716.4" y="1514" width="9" height="9" fill="#f046e4"/>
<rect x="1741.9" y="1516" width="9" height="9" fill="#f046e4"/>
<rect x="1754.4" y="1513.1" width="9" height="9" fill="#f046e4"/>
<rect x="1728.9" y="1524.1" width="9" height="9" fill="#f046e4"/>
<path d="M1920.4 1334.6L1925.4 1343.6L1915.4 1343.6Z" fill="#1636dc"/>
<path d="M1901.4 1377.5L1906.4 1386.5L1896.4 1386.5Z" fill="#1636dc"/>
<path d="M1913.9 1381.1L1918.9 1390.1L1908.9 1390.1Z" fill="#1636dc"/>
<path d="M1926.9 1377.5L1931.9 1386.5L1921.9 1386.5Z" fill="#1636dc"/>
<path d="M1939.4 1377.5L1944.4 1386.5L1934.4 1386.5Z" fill="#1636dc"/>
<path d="M1907.9 1400.5L1912.9 1409.5L1902.9 1409.5Z" fill="#1636dc"/>
<path d="M1920.4 1397.7L1925.4 1406.7L1915.4 1406.7Z" fill="#1636dc"/>
<path d="M1933 1408.2L1938 1417.2L1928 1417.2Z" fill="#1636dc"/>
<path d="M1920.4 1412.3L1925.4 1421.3L1915.4 1421.3Z" fill="#1636dc"/>
<path d="M1876.3 1417.9L1881.3 1426.9L1871.3 1426.9Z" fill="#1636dc"/>
<path d="M1888.9 1420.8L1893.9 1429.8L1883.9 1429.8Z" fill="#1636dc"/>
<path d="M1901.4 1422L1906.4 1431L1896.4 1431Z" fill="#1636dc"/>
<path d="M1913.9 1417.9L1918.9 1426.9L1908.9 1426.9Z" fill="#1636dc"/>
<path d="M1926.9 1417.9L1931.9 1426.9L1921.9 1426.9Z" fill="#1636dc"/>
<path d="M1939.4 1420L1944.4 1429L1934.4 1429Z" fill="#1636dc"/>
<path d="M1958.5 1416.7L1963.5 1425.7L1953.5 1425.7Z" fill="#1636dc"/>
<path d="M1882.4 1430.1L1887.4 1439.1L1877.4 1439.1Z" fill="#1636dc"/>
<path d="M1894.9 1433.7L1899.9 1442.7L1889.9 1442.7Z" fill="#1636dc"/>
<path d="M1907.9 1430.1L1912.9 1439.1L1902.9 1439.1Z" fill="#1636dc"/>
<path d="M1920.4 1430.1L1925.4 1439.1L1915.4 1439.1Z" fill="#1636dc"/>
<path d="M1933 1433.7L1938 1442.7L1928 1442.7Z" fill="#1636dc"/>
<path d="M1945.9 1434.9L1950.9 1443.9L1940.9 1443.9Z" fill="#1636dc"/>
<path d="M1958.5 1432.1L1963.5 1441.1L1953.5 1441.1Z" fill="#1636dc"/>
<path d="M1901.4 1448.3L1906.4 1457.3L1896.4 1457.3Z" fill="#1636dc"/>
<path d="M1913.9 1445.1L1918.9 1454.1L1908.9 1454.1Z" fill="#1636dc"/>
<path d="M1926.9 1442.2L1931.9 1451.2L1921.9 1451.2Z" fill="#1636dc"/>
<path d="M1939.4 1448.3L1944.4 1457.3L1934.4 1457.3Z" fill="#1636dc"/>
<path d="M1913.9 1456.4L1918.9 1465.4L1908.9 1465.4Z" fill="#1636dc"/>
<path d="M1926.9 1456.4L1931.9 1465.4L1921.9 1465.4Z" fill="#1636dc"/>
<path d="M1907.9 1469.7L1912.9 1478.7L1902.9 1478.7Z" fill="#1636dc"/>
<path d="M1920.4 1471.8L1925.4 1480.8L1915.4 1480.8Z" fill="#1636dc"/>
<path d="M1933 1469.7L1938 1478.7L1928 1478.7Z" fill="#1636dc"/>
<path d="M1920.4 1496.9L1925.4 1505.9L1915.4 1505.9Z" fill="#1636dc"/>
<path d="M1920.4 1529.2L1925.4 1538.2L1915.4 1538.2Z" fill="#1636dc"/>
<line x1="1558.6" y1="1516.8" x2="1558.6" y2="1532.6" stroke="#f7923a" stroke-width="1.7" stroke-linecap="butt"/>
<line x1="1528" y1="1516.8" x2="1589.2" y2="1516.8" stroke="#f7923a" stroke-width="1.7" stroke-linecap="butt"/>
<line x1="1528" y1="1532.6" x2="1589.2" y2="1532.6" stroke="#f7923a" stroke-width="1.7" stroke-linecap="butt"/>
<line x1="1739.5" y1="1462.2" x2="1739.5" y2="1480" stroke="#f046e4" stroke-width="1.7" stroke-linecap="butt"/>
<line x1="1708.9" y1="1462.2" x2="1770.1" y2="1462.2" stroke="#f046e4" stroke-width="1.7" stroke-linecap="butt"/>
<line x1="1708.9" y1="1480" x2="1770.1" y2="1480" stroke="#f046e4" stroke-width="1.7" stroke-linecap="butt"/>
<line x1="1920" y1="1427.4" x2="1920" y2="1440.3" stroke="#1636dc" stroke-width="1.7" stroke-linecap="butt"/>
<line x1="1888.4" y1="1427.4" x2="1951.6" y2="1427.4" stroke="#1636dc" stroke-width="1.7" stroke-linecap="butt"/>
<line x1="1888.4" y1="1440.3" x2="1951.6" y2="1440.3" stroke="#1636dc" stroke-width="1.7" stroke-linecap="butt"/>
<line x1="1438.4" y1="1242.5" x2="1438.4" y2="1654.9" stroke="#000" stroke-width="3" stroke-linecap="butt"/>
<line x1="1429" y1="1654.9" x2="2040" y2="1654.9" stroke="#000" stroke-width="3" stroke-linecap="butt"/>
<line x1="1430.4" y1="1654.9" x2="1439.9" y2="1654.9" stroke="#000" stroke-width="3" stroke-linecap="butt"/>
<text x="1429.6" y="1661.9" font-size="20.2" text-anchor="end" textLength="10.6" lengthAdjust="spacingAndGlyphs">0</text>
<line x1="1430.4" y1="1552.2" x2="1439.9" y2="1552.2" stroke="#000" stroke-width="3" stroke-linecap="butt"/>
<text x="1429.6" y="1559.2" font-size="20.2" text-anchor="end" textLength="21.3" lengthAdjust="spacingAndGlyphs">50</text>
<line x1="1430.4" y1="1449.5" x2="1439.9" y2="1449.5" stroke="#000" stroke-width="3" stroke-linecap="butt"/>
<text x="1429.6" y="1456.4" font-size="20.2" text-anchor="end" textLength="31.9" lengthAdjust="spacingAndGlyphs">100</text>
<line x1="1430.4" y1="1346.7" x2="1439.9" y2="1346.7" stroke="#000" stroke-width="3" stroke-linecap="butt"/>
<text x="1429.6" y="1353.7" font-size="20.2" text-anchor="end" textLength="31.9" lengthAdjust="spacingAndGlyphs">150</text>
<line x1="1430.4" y1="1244" x2="1439.9" y2="1244" stroke="#000" stroke-width="3" stroke-linecap="butt"/>
<text x="1429.6" y="1251" font-size="20.2" text-anchor="end" textLength="31.9" lengthAdjust="spacingAndGlyphs">200</text>
<line x1="1558.6" y1="1654.9" x2="1558.6" y2="1662.9" stroke="#000" stroke-width="3" stroke-linecap="butt"/>
<line x1="1739.5" y1="1654.9" x2="1739.5" y2="1662.9" stroke="#000" stroke-width="3" stroke-linecap="butt"/>
<line x1="1920" y1="1654.9" x2="1920" y2="1662.9" stroke="#000" stroke-width="3" stroke-linecap="butt"/>
<text x="1556.1" y="1681.2" font-size="19.7" text-anchor="middle" textLength="159.5" lengthAdjust="spacingAndGlyphs">Early premanifest</text>
<text x="1737" y="1681.2" font-size="19.7" text-anchor="middle" textLength="152" lengthAdjust="spacingAndGlyphs">Late premanifest</text>
<text x="1917.5" y="1681.2" font-size="19.7" text-anchor="middle" textLength="129.9" lengthAdjust="spacingAndGlyphs">Early manifest</text>
<text x="1556.1" y="1703.4" font-size="19.7" text-anchor="middle" textLength="27.4" lengthAdjust="spacingAndGlyphs">HD</text>
<text x="1737" y="1703.4" font-size="19.7" text-anchor="middle" textLength="27.4" lengthAdjust="spacingAndGlyphs">HD</text>
<text x="1917.5" y="1703.4" font-size="19.7" text-anchor="middle" textLength="27.4" lengthAdjust="spacingAndGlyphs">HD</text>
<text x="1386.5" y="1448" font-size="20.6" text-anchor="middle" textLength="101" lengthAdjust="spacingAndGlyphs" transform="rotate(-90 1386.5 1448)">CAP score</text>
<line x1="1560.6" y1="1288.6" x2="1899.8" y2="1288.6" stroke="#000" stroke-width="5.5" stroke-linecap="butt"/>
<text x="1719.2" y="1276.6" font-size="32.1" text-anchor="middle" textLength="211.7" lengthAdjust="spacingAndGlyphs" xml:space="preserve"><tspan>*** </tspan><tspan font-style="italic">P</tspan><tspan> = &lt;0.0001</tspan></text>
<line x1="1558.6" y1="1351.7" x2="1721.3" y2="1351.7" stroke="#000" stroke-width="5.5" stroke-linecap="butt"/>
<line x1="1744" y1="1351.7" x2="1907.5" y2="1351.7" stroke="#000" stroke-width="5.5" stroke-linecap="butt"/>
<text x="1634.5" y="1341.4" font-size="32.1" text-anchor="middle" textLength="153" lengthAdjust="spacingAndGlyphs" xml:space="preserve"><tspan>* </tspan><tspan font-style="italic">P</tspan><tspan> = 0.025</tspan></text>
<text x="1820.2" y="1341.4" font-size="32.1" text-anchor="middle" textLength="153.7" lengthAdjust="spacingAndGlyphs" xml:space="preserve"><tspan>* </tspan><tspan font-style="italic">P</tspan><tspan> = 0.016</tspan></text>
<text x="49.7" y="1749.2" font-size="68" text-anchor="middle" font-family="Carlito, 'Noto Sans CJK JP', 'Liberation Sans', sans-serif">h</text>
<text x="387.5" y="1749.1" font-size="36.4" text-anchor="middle" textLength="351.8" lengthAdjust="spacingAndGlyphs">Controls Age vs CSF</text>
<text x="387.8" y="1791.8" font-size="36.4" text-anchor="middle" textLength="165.4" lengthAdjust="spacingAndGlyphs">C3 Levels</text>
<circle cx="457.1" cy="1843.3" r="5" fill="#14ee14"/>
<circle cx="512.5" cy="1878.3" r="5" fill="#14ee14"/>
<circle cx="339.6" cy="1900.4" r="5" fill="#14ee14"/>
<circle cx="412.5" cy="1903.3" r="5" fill="#14ee14"/>
<circle cx="440.8" cy="1910" r="5" fill="#14ee14"/>
<circle cx="418.8" cy="1942.5" r="5" fill="#14ee14"/>
<circle cx="396.7" cy="1947.5" r="5" fill="#14ee14"/>
<circle cx="434.6" cy="1952.5" r="5" fill="#14ee14"/>
<circle cx="413.8" cy="1956.7" r="5" fill="#14ee14"/>
<circle cx="500.8" cy="1955.8" r="5" fill="#14ee14"/>
<circle cx="331.2" cy="1959.6" r="5" fill="#14ee14"/>
<circle cx="399.2" cy="1968.8" r="5" fill="#14ee14"/>
<circle cx="374.2" cy="1985.4" r="5" fill="#14ee14"/>
<circle cx="389.6" cy="1984.6" r="5" fill="#14ee14"/>
<circle cx="417.9" cy="1986.2" r="5" fill="#14ee14"/>
<circle cx="425" cy="1989.2" r="5" fill="#14ee14"/>
<circle cx="432.5" cy="1990" r="5" fill="#14ee14"/>
<circle cx="424.2" cy="1996.2" r="5" fill="#14ee14"/>
<circle cx="452.1" cy="1998.8" r="5" fill="#14ee14"/>
<circle cx="300" cy="2010.8" r="5" fill="#14ee14"/>
<circle cx="421.7" cy="2005.4" r="5" fill="#14ee14"/>
<circle cx="417.9" cy="2010.4" r="5" fill="#14ee14"/>
<circle cx="420.8" cy="2014.6" r="5" fill="#14ee14"/>
<circle cx="357.5" cy="2018.3" r="5" fill="#14ee14"/>
<circle cx="310.4" cy="2032.5" r="5" fill="#14ee14"/>
<circle cx="348.3" cy="2037.9" r="5" fill="#14ee14"/>
<circle cx="413.8" cy="2037.9" r="5" fill="#14ee14"/>
<circle cx="415.8" cy="2040" r="5" fill="#14ee14"/>
<circle cx="312.5" cy="2042.9" r="5" fill="#14ee14"/>
<circle cx="380" cy="2052.9" r="5" fill="#14ee14"/>
<circle cx="395.8" cy="2051.7" r="5" fill="#14ee14"/>
<circle cx="406.2" cy="2063.3" r="5" fill="#14ee14"/>
<line x1="183.3" y1="1753.4" x2="183.3" y2="2109.9" stroke="#000" stroke-width="4" stroke-linecap="butt"/>
<line x1="181.3" y1="2107.9" x2="538.7" y2="2107.9" stroke="#000" stroke-width="4" stroke-linecap="butt"/>
<line x1="173" y1="2107.9" x2="185.3" y2="2107.9" stroke="#000" stroke-width="4" stroke-linecap="butt"/>
<text x="172.2" y="2116.7" font-size="25.6" text-anchor="end" textLength="13.6" lengthAdjust="spacingAndGlyphs">0</text>
<line x1="173" y1="2019.8" x2="185.3" y2="2019.8" stroke="#000" stroke-width="4" stroke-linecap="butt"/>
<text x="172.2" y="2028.6" font-size="25.6" text-anchor="end" textLength="54.4" lengthAdjust="spacingAndGlyphs">2000</text>
<line x1="173" y1="1931.7" x2="185.3" y2="1931.7" stroke="#000" stroke-width="4" stroke-linecap="butt"/>
<text x="172.2" y="1940.5" font-size="25.6" text-anchor="end" textLength="54.4" lengthAdjust="spacingAndGlyphs">4000</text>
<line x1="173" y1="1843.5" x2="185.3" y2="1843.5" stroke="#000" stroke-width="4" stroke-linecap="butt"/>
<text x="172.2" y="1852.4" font-size="25.6" text-anchor="end" textLength="54.4" lengthAdjust="spacingAndGlyphs">6000</text>
<line x1="173" y1="1755.4" x2="185.3" y2="1755.4" stroke="#000" stroke-width="4" stroke-linecap="butt"/>
<text x="172.2" y="1764.3" font-size="25.6" text-anchor="end" textLength="54.4" lengthAdjust="spacingAndGlyphs">8000</text>
<line x1="183.3" y1="2105.9" x2="183.3" y2="2118.2" stroke="#000" stroke-width="4" stroke-linecap="butt"/>
<text x="183.3" y="2142" font-size="25.6" text-anchor="middle" textLength="13.6" lengthAdjust="spacingAndGlyphs">0</text>
<line x1="271.7" y1="2105.9" x2="271.7" y2="2118.2" stroke="#000" stroke-width="4" stroke-linecap="butt"/>
<text x="271.7" y="2142" font-size="25.6" text-anchor="middle" textLength="27.2" lengthAdjust="spacingAndGlyphs">20</text>
<line x1="360" y1="2105.9" x2="360" y2="2118.2" stroke="#000" stroke-width="4" stroke-linecap="butt"/>
<text x="360" y="2142" font-size="25.6" text-anchor="middle" textLength="27.2" lengthAdjust="spacingAndGlyphs">40</text>
<line x1="448.4" y1="2105.9" x2="448.4" y2="2118.2" stroke="#000" stroke-width="4" stroke-linecap="butt"/>
<text x="448.4" y="2142" font-size="25.6" text-anchor="middle" textLength="27.2" lengthAdjust="spacingAndGlyphs">60</text>
<line x1="536.7" y1="2105.9" x2="536.7" y2="2118.2" stroke="#000" stroke-width="4" stroke-linecap="butt"/>
<text x="536.7" y="2142" font-size="25.6" text-anchor="middle" textLength="27.2" lengthAdjust="spacingAndGlyphs">80</text>
<text x="105.6" y="1925.3" font-size="26.5" text-anchor="middle" textLength="309.4" lengthAdjust="spacingAndGlyphs" transform="rotate(-90 105.6 1925.3)">C3 concentration ( ng/ml)</text>
<text x="359.3" y="2179.6" font-size="26.1" text-anchor="middle" textLength="86.3" lengthAdjust="spacingAndGlyphs">Age (y)</text>
<text x="257.7" y="1824.3" font-size="32.1" text-anchor="middle" textLength="137.4" lengthAdjust="spacingAndGlyphs">R = 0.404</text>
<text x="262.1" y="1861.8" font-size="32.1" text-anchor="middle" textLength="147.9" lengthAdjust="spacingAndGlyphs" xml:space="preserve"><tspan>*</tspan><tspan font-style="italic">P</tspan><tspan> = 0.022</tspan></text>
<text x="727.9" y="1749.0" font-size="68" text-anchor="middle" font-family="Carlito, 'Noto Sans CJK JP', 'Liberation Sans', sans-serif">i</text>
<text x="1042.5" y="1744.8" font-size="36.4" text-anchor="middle" textLength="351.8" lengthAdjust="spacingAndGlyphs">Controls Age vs CSF</text>
<text x="1041.5" y="1786.6" font-size="36.4" text-anchor="middle" textLength="195.5" lengthAdjust="spacingAndGlyphs">iC3b Levels</text>
<circle cx="1113.3" cy="1873.3" r="5" fill="#14ee14"/>
<circle cx="1168.8" cy="1918.3" r="5" fill="#14ee14"/>
<circle cx="967.1" cy="1932.1" r="5" fill="#14ee14"/>
<circle cx="1156.7" cy="2003.8" r="5" fill="#14ee14"/>
<circle cx="1080.8" cy="1990" r="5" fill="#14ee14"/>
<circle cx="1068.8" cy="2000.8" r="5" fill="#14ee14"/>
<circle cx="1052.1" cy="2007.9" r="5" fill="#14ee14"/>
<circle cx="1052.9" cy="2010" r="5" fill="#14ee14"/>
<circle cx="1076.7" cy="2010" r="5" fill="#14ee14"/>
<circle cx="1097.1" cy="2010" r="5" fill="#14ee14"/>
<circle cx="1075" cy="2015" r="5" fill="#14ee14"/>
<circle cx="1073.8" cy="2023.3" r="5" fill="#14ee14"/>
<circle cx="968.3" cy="2023.3" r="5" fill="#14ee14"/>
<circle cx="956.2" cy="2028.8" r="5" fill="#14ee14"/>
<circle cx="987.5" cy="2027.9" r="5" fill="#14ee14"/>
<circle cx="995.8" cy="2038.3" r="5" fill="#14ee14"/>
<circle cx="1030.4" cy="2033.8" r="5" fill="#14ee14"/>
<circle cx="1062.5" cy="2035" r="5" fill="#14ee14"/>
<circle cx="1056.2" cy="2037.1" r="5" fill="#14ee14"/>
<circle cx="1082.1" cy="2032.5" r="5" fill="#14ee14"/>
<circle cx="1077.9" cy="2037.1" r="5" fill="#14ee14"/>
<circle cx="1091.2" cy="2042.5" r="5" fill="#14ee14"/>
<circle cx="1108.3" cy="2041.2" r="5" fill="#14ee14"/>
<circle cx="1014.6" cy="2046.2" r="5" fill="#14ee14"/>
<circle cx="1070.4" cy="2045.4" r="5" fill="#14ee14"/>
<circle cx="1074.2" cy="2051.7" r="5" fill="#14ee14"/>
<circle cx="1089.2" cy="2049.6" r="5" fill="#14ee14"/>
<circle cx="1071.7" cy="2077.1" r="5" fill="#14ee14"/>
<circle cx="1046.2" cy="2078.8" r="5" fill="#14ee14"/>
<circle cx="1005" cy="2084.2" r="5" fill="#14ee14"/>
<circle cx="1036.7" cy="2086.2" r="5" fill="#14ee14"/>
<line x1="839.6" y1="1756.8" x2="839.6" y2="2106.6" stroke="#000" stroke-width="4" stroke-linecap="butt"/>
<line x1="837.6" y1="2104.6" x2="1194.5" y2="2104.6" stroke="#000" stroke-width="4" stroke-linecap="butt"/>
<line x1="829.3" y1="2104.6" x2="841.6" y2="2104.6" stroke="#000" stroke-width="4" stroke-linecap="butt"/>
<text x="828.5" y="2113.4" font-size="25.6" text-anchor="end" textLength="13.6" lengthAdjust="spacingAndGlyphs">0</text>
<line x1="829.3" y1="2047" x2="841.6" y2="2047" stroke="#000" stroke-width="4" stroke-linecap="butt"/>
<text x="828.5" y="2055.8" font-size="25.6" text-anchor="end" textLength="40.8" lengthAdjust="spacingAndGlyphs">250</text>
<line x1="829.3" y1="1989.3" x2="841.6" y2="1989.3" stroke="#000" stroke-width="4" stroke-linecap="butt"/>
<text x="828.5" y="1998.2" font-size="25.6" text-anchor="end" textLength="40.8" lengthAdjust="spacingAndGlyphs">500</text>
<line x1="829.3" y1="1931.7" x2="841.6" y2="1931.7" stroke="#000" stroke-width="4" stroke-linecap="butt"/>
<text x="828.5" y="1940.5" font-size="25.6" text-anchor="end" textLength="40.8" lengthAdjust="spacingAndGlyphs">750</text>
<line x1="829.3" y1="1874" x2="841.6" y2="1874" stroke="#000" stroke-width="4" stroke-linecap="butt"/>
<text x="828.5" y="1882.9" font-size="25.6" text-anchor="end" textLength="54.4" lengthAdjust="spacingAndGlyphs">1000</text>
<line x1="829.3" y1="1816.4" x2="841.6" y2="1816.4" stroke="#000" stroke-width="4" stroke-linecap="butt"/>
<text x="828.5" y="1825.2" font-size="25.6" text-anchor="end" textLength="54.4" lengthAdjust="spacingAndGlyphs">1250</text>
<line x1="829.3" y1="1758.7" x2="841.6" y2="1758.7" stroke="#000" stroke-width="4" stroke-linecap="butt"/>
<text x="828.5" y="1767.6" font-size="25.6" text-anchor="end" textLength="54.4" lengthAdjust="spacingAndGlyphs">1500</text>
<line x1="839.6" y1="2102.6" x2="839.6" y2="2114.9" stroke="#000" stroke-width="4" stroke-linecap="butt"/>
<text x="839.6" y="2138" font-size="25.6" text-anchor="middle" textLength="13.6" lengthAdjust="spacingAndGlyphs">0</text>
<line x1="927.8" y1="2102.6" x2="927.8" y2="2114.9" stroke="#000" stroke-width="4" stroke-linecap="butt"/>
<text x="927.8" y="2138" font-size="25.6" text-anchor="middle" textLength="27.2" lengthAdjust="spacingAndGlyphs">20</text>
<line x1="1016" y1="2102.6" x2="1016" y2="2114.9" stroke="#000" stroke-width="4" stroke-linecap="butt"/>
<text x="1016" y="2138" font-size="25.6" text-anchor="middle" textLength="27.2" lengthAdjust="spacingAndGlyphs">40</text>
<line x1="1104.2" y1="2102.6" x2="1104.2" y2="2114.9" stroke="#000" stroke-width="4" stroke-linecap="butt"/>
<text x="1104.2" y="2138" font-size="25.6" text-anchor="middle" textLength="27.2" lengthAdjust="spacingAndGlyphs">60</text>
<line x1="1192.4" y1="2102.6" x2="1192.4" y2="2114.9" stroke="#000" stroke-width="4" stroke-linecap="butt"/>
<text x="1192.4" y="2138" font-size="25.6" text-anchor="middle" textLength="27.2" lengthAdjust="spacingAndGlyphs">80</text>
<text x="762.5" y="1926.4" font-size="25.8" text-anchor="middle" textLength="319.5" lengthAdjust="spacingAndGlyphs" transform="rotate(-90 762.5 1926.4)">iC3B concentration (ng/ml)</text>
<text x="1016" y="2175.4" font-size="26.1" text-anchor="middle" textLength="87" lengthAdjust="spacingAndGlyphs">Age (y)</text>
<text x="915.6" y="1818" font-size="32.1" text-anchor="middle" textLength="136.6" lengthAdjust="spacingAndGlyphs">R = 0.223</text>
<text x="915.6" y="1856.8" font-size="32.1" text-anchor="middle" textLength="136.6" lengthAdjust="spacingAndGlyphs" xml:space="preserve"><tspan font-style="italic">P</tspan><tspan> = 0.206</tspan></text>
<text x="1363.8" y="1751.8" font-size="68" text-anchor="middle" font-family="Carlito, 'Noto Sans CJK JP', 'Liberation Sans', sans-serif">j</text>
<text x="1678.3" y="1744.1" font-size="36.4" text-anchor="middle" textLength="351.8" lengthAdjust="spacingAndGlyphs">Controls Age vs CSF</text>
<text x="1678.5" y="1785.8" font-size="36.4" text-anchor="middle" textLength="187.2" lengthAdjust="spacingAndGlyphs">C1q Levels</text>
<circle cx="1715" cy="1917.1" r="5" fill="#14ee14"/>
<circle cx="1807.5" cy="1931.7" r="5" fill="#14ee14"/>
<circle cx="1595.4" cy="1973.8" r="5" fill="#14ee14"/>
<circle cx="1694.6" cy="1970.4" r="5" fill="#14ee14"/>
<circle cx="1736.2" cy="1973.3" r="5" fill="#14ee14"/>
<circle cx="1707.5" cy="1983.8" r="5" fill="#14ee14"/>
<circle cx="1751.7" cy="1982.5" r="5" fill="#14ee14"/>
<circle cx="1653.3" cy="2009.2" r="5" fill="#14ee14"/>
<circle cx="1747.5" cy="2024.6" r="5" fill="#14ee14"/>
<circle cx="1605.8" cy="2040" r="5" fill="#14ee14"/>
<circle cx="1625.4" cy="2044.2" r="5" fill="#14ee14"/>
<circle cx="1634.6" cy="2044.2" r="5" fill="#14ee14"/>
<circle cx="1691.2" cy="2040" r="5" fill="#14ee14"/>
<circle cx="1691.2" cy="2047.1" r="5" fill="#14ee14"/>
<circle cx="1795.4" cy="2040" r="5" fill="#14ee14"/>
<circle cx="1720" cy="2028.8" r="5" fill="#14ee14"/>
<circle cx="1717.1" cy="2033.8" r="5" fill="#14ee14"/>
<circle cx="1714.2" cy="2040" r="5" fill="#14ee14"/>
<circle cx="1709.6" cy="2046.2" r="5" fill="#14ee14"/>
<circle cx="1712.1" cy="2049.2" r="5" fill="#14ee14"/>
<circle cx="1710.8" cy="2055.4" r="5" fill="#14ee14"/>
<circle cx="1669.2" cy="2056.7" r="5" fill="#14ee14"/>
<circle cx="1684.6" cy="2065" r="5" fill="#14ee14"/>
<circle cx="1675.4" cy="2067.9" r="5" fill="#14ee14"/>
<circle cx="1701.7" cy="2067.1" r="5" fill="#14ee14"/>
<circle cx="1730" cy="2060.4" r="5" fill="#14ee14"/>
<circle cx="1721.2" cy="2064.2" r="5" fill="#14ee14"/>
<circle cx="1643.3" cy="2073.3" r="5" fill="#14ee14"/>
<circle cx="1712.1" cy="2074.2" r="5" fill="#14ee14"/>
<circle cx="1727.5" cy="2075.4" r="5" fill="#14ee14"/>
<circle cx="1607.1" cy="2084.6" r="5" fill="#14ee14"/>
<line x1="1478.3" y1="1760.9" x2="1478.3" y2="2108.7" stroke="#000" stroke-width="4" stroke-linecap="butt"/>
<line x1="1476.3" y1="2106.7" x2="1833.7" y2="2106.7" stroke="#000" stroke-width="4" stroke-linecap="butt"/>
<line x1="1468" y1="2106.7" x2="1480.3" y2="2106.7" stroke="#000" stroke-width="4" stroke-linecap="butt"/>
<text x="1467.2" y="2115.5" font-size="25.6" text-anchor="end" textLength="13.6" lengthAdjust="spacingAndGlyphs">0</text>
<line x1="1468" y1="2037.9" x2="1480.3" y2="2037.9" stroke="#000" stroke-width="4" stroke-linecap="butt"/>
<text x="1467.2" y="2046.8" font-size="25.6" text-anchor="end" textLength="40.8" lengthAdjust="spacingAndGlyphs">200</text>
<line x1="1468" y1="1969.2" x2="1480.3" y2="1969.2" stroke="#000" stroke-width="4" stroke-linecap="butt"/>
<text x="1467.2" y="1978" font-size="25.6" text-anchor="end" textLength="40.8" lengthAdjust="spacingAndGlyphs">400</text>
<line x1="1468" y1="1900.4" x2="1480.3" y2="1900.4" stroke="#000" stroke-width="4" stroke-linecap="butt"/>
<text x="1467.2" y="1909.3" font-size="25.6" text-anchor="end" textLength="40.8" lengthAdjust="spacingAndGlyphs">600</text>
<line x1="1468" y1="1831.7" x2="1480.3" y2="1831.7" stroke="#000" stroke-width="4" stroke-linecap="butt"/>
<text x="1467.2" y="1840.5" font-size="25.6" text-anchor="end" textLength="40.8" lengthAdjust="spacingAndGlyphs">800</text>
<line x1="1468" y1="1762.9" x2="1480.3" y2="1762.9" stroke="#000" stroke-width="4" stroke-linecap="butt"/>
<text x="1467.2" y="1771.7" font-size="25.6" text-anchor="end" textLength="54.4" lengthAdjust="spacingAndGlyphs">1000</text>
<line x1="1478.3" y1="2104.7" x2="1478.3" y2="2117" stroke="#000" stroke-width="4" stroke-linecap="butt"/>
<text x="1478.3" y="2139" font-size="25.6" text-anchor="middle" textLength="13.6" lengthAdjust="spacingAndGlyphs">0</text>
<line x1="1566.6" y1="2104.7" x2="1566.6" y2="2117" stroke="#000" stroke-width="4" stroke-linecap="butt"/>
<text x="1566.6" y="2139" font-size="25.6" text-anchor="middle" textLength="27.2" lengthAdjust="spacingAndGlyphs">20</text>
<line x1="1655" y1="2104.7" x2="1655" y2="2117" stroke="#000" stroke-width="4" stroke-linecap="butt"/>
<text x="1655" y="2139" font-size="25.6" text-anchor="middle" textLength="27.2" lengthAdjust="spacingAndGlyphs">40</text>
<line x1="1743.3" y1="2104.7" x2="1743.3" y2="2117" stroke="#000" stroke-width="4" stroke-linecap="butt"/>
<text x="1743.3" y="2139" font-size="25.6" text-anchor="middle" textLength="27.2" lengthAdjust="spacingAndGlyphs">60</text>
<line x1="1831.7" y1="2104.7" x2="1831.7" y2="2117" stroke="#000" stroke-width="4" stroke-linecap="butt"/>
<text x="1831.7" y="2139" font-size="25.6" text-anchor="middle" textLength="27.2" lengthAdjust="spacingAndGlyphs">80</text>
<text x="1400.6" y="1928.5" font-size="25.6" text-anchor="middle" textLength="307" lengthAdjust="spacingAndGlyphs" transform="rotate(-90 1400.6 1928.5)">C1q concentration (ng/ml)</text>
<text x="1654.6" y="2176.7" font-size="26.1" text-anchor="middle" textLength="86.8" lengthAdjust="spacingAndGlyphs">Age (y)</text>
<text x="1555" y="1818" font-size="32.1" text-anchor="middle" textLength="137.8" lengthAdjust="spacingAndGlyphs">R = 0.265</text>
<text x="1555" y="1856.8" font-size="32.1" text-anchor="middle" textLength="137.8" lengthAdjust="spacingAndGlyphs" xml:space="preserve"><tspan font-style="italic">P</tspan><tspan> = 0.142</tspan></text>
<text x="15.2" y="2261.6" font-size="68" text-anchor="middle" font-family="Carlito, 'Noto Sans CJK JP', 'Liberation Sans', sans-serif">k</text>
<text x="294.5" y="2214.6" font-size="28.4" text-anchor="middle" textLength="450.4" lengthAdjust="spacingAndGlyphs">Premanifest HD CAP score vs CSF</text>
<text x="295.4" y="2247.7" font-size="28.4" text-anchor="middle" textLength="399.4" lengthAdjust="spacingAndGlyphs">C3 levels adjusted for aging in</text>
<text x="295.2" y="2278.8" font-size="28.4" text-anchor="middle" textLength="108.5" lengthAdjust="spacingAndGlyphs">controls</text>
<circle cx="447.8" cy="2333" r="5" fill="#f28a80"/>
<circle cx="327.9" cy="2396.3" r="5" fill="#f28a80"/>
<circle cx="302.8" cy="2438.1" r="5" fill="#f28a80"/>
<circle cx="314.4" cy="2439.4" r="5" fill="#f28a80"/>
<circle cx="379.9" cy="2482.2" r="5" fill="#f28a80"/>
<circle cx="240.1" cy="2495.7" r="5" fill="#f28a80"/>
<circle cx="287.7" cy="2492.1" r="5" fill="#f28a80"/>
<circle cx="281.9" cy="2516.5" r="5" fill="#f28a80"/>
<circle cx="291.9" cy="2517.5" r="5" fill="#f28a80"/>
<circle cx="323" cy="2516.9" r="5" fill="#f28a80"/>
<circle cx="281.3" cy="2523.9" r="5" fill="#f28a80"/>
<circle cx="360.7" cy="2521.4" r="5" fill="#f28a80"/>
<circle cx="368" cy="2526.2" r="5" fill="#f28a80"/>
<circle cx="379.3" cy="2528.8" r="5" fill="#f28a80"/>
<circle cx="334.3" cy="2529.1" r="5" fill="#f28a80"/>
<circle cx="293.2" cy="2531" r="5" fill="#f28a80"/>
<circle cx="267.8" cy="2535.5" r="5" fill="#f28a80"/>
<circle cx="294.1" cy="2545.5" r="5" fill="#f28a80"/>
<circle cx="374.8" cy="2550.3" r="5" fill="#f28a80"/>
<circle cx="405.7" cy="2552.9" r="5" fill="#f28a80"/>
<circle cx="233" cy="2558.3" r="5" fill="#f28a80"/>
<circle cx="244.9" cy="2562.5" r="5" fill="#f28a80"/>
<circle cx="332" cy="2558.7" r="5" fill="#f28a80"/>
<circle cx="390.9" cy="2559.9" r="5" fill="#f28a80"/>
<circle cx="288.7" cy="2569.9" r="5" fill="#f28a80"/>
<circle cx="281.3" cy="2574.7" r="5" fill="#f28a80"/>
<circle cx="289.9" cy="2577.6" r="5" fill="#f28a80"/>
<circle cx="304.1" cy="2578.9" r="5" fill="#f28a80"/>
<circle cx="346.8" cy="2580.2" r="5" fill="#f28a80"/>
<circle cx="351" cy="2582.8" r="5" fill="#f28a80"/>
<circle cx="368.7" cy="2590.2" r="5" fill="#f28a80"/>
<circle cx="336.2" cy="2596.6" r="5" fill="#f28a80"/>
<line x1="132.8" y1="2274.4" x2="132.8" y2="2642.6" stroke="#000" stroke-width="4" stroke-linecap="butt"/>
<line x1="130.8" y1="2640.6" x2="497.7" y2="2640.6" stroke="#000" stroke-width="4" stroke-linecap="butt"/>
<line x1="122.2" y1="2640.6" x2="134.8" y2="2640.6" stroke="#000" stroke-width="4" stroke-linecap="butt"/>
<text x="121.5" y="2648.5" font-size="22.8" text-anchor="end" textLength="11.7" lengthAdjust="spacingAndGlyphs">0</text>
<line x1="122.2" y1="2567.8" x2="134.8" y2="2567.8" stroke="#000" stroke-width="4" stroke-linecap="butt"/>
<text x="121.5" y="2575.6" font-size="22.8" text-anchor="end" textLength="47" lengthAdjust="spacingAndGlyphs">2000</text>
<line x1="122.2" y1="2494.9" x2="134.8" y2="2494.9" stroke="#000" stroke-width="4" stroke-linecap="butt"/>
<text x="121.5" y="2502.8" font-size="22.8" text-anchor="end" textLength="47" lengthAdjust="spacingAndGlyphs">4000</text>
<line x1="122.2" y1="2422.1" x2="134.8" y2="2422.1" stroke="#000" stroke-width="4" stroke-linecap="butt"/>
<text x="121.5" y="2430" font-size="22.8" text-anchor="end" textLength="47" lengthAdjust="spacingAndGlyphs">6000</text>
<line x1="122.2" y1="2349.2" x2="134.8" y2="2349.2" stroke="#000" stroke-width="4" stroke-linecap="butt"/>
<text x="121.5" y="2357.1" font-size="22.8" text-anchor="end" textLength="47" lengthAdjust="spacingAndGlyphs">8000</text>
<line x1="122.2" y1="2276.4" x2="134.8" y2="2276.4" stroke="#000" stroke-width="4" stroke-linecap="butt"/>
<text x="121.5" y="2284.3" font-size="22.8" text-anchor="end" textLength="58.7" lengthAdjust="spacingAndGlyphs">10000</text>
<line x1="132.8" y1="2638.6" x2="132.8" y2="2651.1" stroke="#000" stroke-width="4" stroke-linecap="butt"/>
<text x="132.8" y="2671.8" font-size="22.8" text-anchor="middle" textLength="11.7" lengthAdjust="spacingAndGlyphs">0</text>
<line x1="253.7" y1="2638.6" x2="253.7" y2="2651.1" stroke="#000" stroke-width="4" stroke-linecap="butt"/>
<text x="253.7" y="2671.8" font-size="22.8" text-anchor="middle" textLength="23.5" lengthAdjust="spacingAndGlyphs">50</text>
<line x1="374.7" y1="2638.6" x2="374.7" y2="2651.1" stroke="#000" stroke-width="4" stroke-linecap="butt"/>
<text x="374.7" y="2671.8" font-size="22.8" text-anchor="middle" textLength="35.2" lengthAdjust="spacingAndGlyphs">100</text>
<line x1="495.7" y1="2638.6" x2="495.7" y2="2651.1" stroke="#000" stroke-width="4" stroke-linecap="butt"/>
<text x="495.7" y="2671.8" font-size="22.8" text-anchor="middle" textLength="35.2" lengthAdjust="spacingAndGlyphs">150</text>
<text x="54.5" y="2456.3" font-size="27.1" text-anchor="middle" textLength="309.5" lengthAdjust="spacingAndGlyphs" transform="rotate(-90 54.5 2456.3)">C3 concentration (ng/ml)</text>
<text x="314.7" y="2708.8" font-size="27" text-anchor="middle" textLength="132.3" lengthAdjust="spacingAndGlyphs">CAP score</text>
<text x="220.9" y="2313.8" font-size="32.1" text-anchor="middle" textLength="153.9" lengthAdjust="spacingAndGlyphs">R = - 0.007</text>
<text x="211.8" y="2351.4" font-size="32.1" text-anchor="middle" textLength="135.6" lengthAdjust="spacingAndGlyphs" xml:space="preserve"><tspan font-style="italic">P</tspan><tspan> = 0.968</tspan></text>
<text x="567.0" y="2265.7" font-size="68" text-anchor="middle" font-family="Carlito, 'Noto Sans CJK JP', 'Liberation Sans', sans-serif">l</text>
<text x="847.5" y="2211.3" font-size="28.4" text-anchor="middle" textLength="347.5" lengthAdjust="spacingAndGlyphs">CSF C3 levels adjusted for</text>
<text x="847.3" y="2243.5" font-size="28.4" text-anchor="middle" textLength="222.6" lengthAdjust="spacingAndGlyphs">aging in controls</text>
<path d="M728.5 2636.4V2538.4H842.5V2636.4" fill="#fff" stroke="#8c8c8c" stroke-width="4"/>
<path d="M901.5 2636.4V2510.1H1014.5V2636.4" fill="#fff" stroke="#b4b4b4" stroke-width="4"/>
<circle cx="785.3" cy="2433.9" r="5" fill="#f7923a"/>
<circle cx="776.9" cy="2490.8" r="5" fill="#f7923a"/>
<circle cx="793.9" cy="2487.6" r="5" fill="#f7923a"/>
<circle cx="776.9" cy="2519.1" r="5" fill="#f7923a"/>
<circle cx="793.9" cy="2531.3" r="5" fill="#f7923a"/>
<circle cx="776.9" cy="2554.5" r="5" fill="#f7923a"/>
<circle cx="793.9" cy="2554.5" r="5" fill="#f7923a"/>
<circle cx="819.7" cy="2558.7" r="5" fill="#f7923a"/>
<circle cx="751.2" cy="2566.7" r="5" fill="#f7923a"/>
<circle cx="768.2" cy="2573.1" r="5" fill="#f7923a"/>
<circle cx="785.3" cy="2575.4" r="5" fill="#f7923a"/>
<circle cx="802.6" cy="2571.5" r="5" fill="#f7923a"/>
<circle cx="785.3" cy="2593.1" r="5" fill="#f7923a"/>
<rect x="952.9" y="2320.6" width="10" height="10" fill="#f046e4"/>
<rect x="952.9" y="2385.5" width="10" height="10" fill="#f046e4"/>
<rect x="952.9" y="2427.7" width="10" height="10" fill="#f046e4"/>
<rect x="952.9" y="2472.3" width="10" height="10" fill="#f046e4"/>
<rect x="904" y="2507" width="10" height="10" fill="#f046e4"/>
<rect x="920.1" y="2507.7" width="10" height="10" fill="#f046e4"/>
<rect x="936.2" y="2515.7" width="10" height="10" fill="#f046e4"/>
<rect x="952.9" y="2521.2" width="10" height="10" fill="#f046e4"/>
<rect x="969.6" y="2519.3" width="10" height="10" fill="#f046e4"/>
<rect x="986.6" y="2511.5" width="10" height="10" fill="#f046e4"/>
<rect x="1003.3" y="2507" width="10" height="10" fill="#f046e4"/>
<rect x="927.2" y="2536" width="10" height="10" fill="#f046e4"/>
<rect x="943.9" y="2543.7" width="10" height="10" fill="#f046e4"/>
<rect x="961.2" y="2549.5" width="10" height="10" fill="#f046e4"/>
<rect x="978.6" y="2541.1" width="10" height="10" fill="#f046e4"/>
<rect x="936.2" y="2572" width="10" height="10" fill="#f046e4"/>
<rect x="969.6" y="2575.2" width="10" height="10" fill="#f046e4"/>
<rect x="952.9" y="2581.6" width="10" height="10" fill="#f046e4"/>
<line x1="785.3" y1="2526.5" x2="785.3" y2="2551.6" stroke="#f7923a" stroke-width="1.7" stroke-linecap="butt"/>
<line x1="755.2" y1="2526.5" x2="815.4" y2="2526.5" stroke="#f7923a" stroke-width="1.7" stroke-linecap="butt"/>
<line x1="755.2" y1="2551.6" x2="815.4" y2="2551.6" stroke="#f7923a" stroke-width="1.7" stroke-linecap="butt"/>
<line x1="957.9" y1="2494" x2="957.9" y2="2526.2" stroke="#f046e4" stroke-width="1.7" stroke-linecap="butt"/>
<line x1="928.3" y1="2494" x2="987.5" y2="2494" stroke="#f046e4" stroke-width="1.7" stroke-linecap="butt"/>
<line x1="928.3" y1="2526.2" x2="987.5" y2="2526.2" stroke="#f046e4" stroke-width="1.7" stroke-linecap="butt"/>
<line x1="670.2" y1="2265.8" x2="670.2" y2="2636.4" stroke="#000" stroke-width="4" stroke-linecap="butt"/>
<line x1="662" y1="2636.4" x2="1073.3" y2="2636.4" stroke="#000" stroke-width="4" stroke-linecap="butt"/>
<line x1="659.7" y1="2636.4" x2="672.2" y2="2636.4" stroke="#000" stroke-width="4" stroke-linecap="butt"/>
<text x="658.9" y="2644.3" font-size="23" text-anchor="end" textLength="11.8" lengthAdjust="spacingAndGlyphs">0</text>
<line x1="659.7" y1="2562.7" x2="672.2" y2="2562.7" stroke="#000" stroke-width="4" stroke-linecap="butt"/>
<text x="658.9" y="2570.6" font-size="23" text-anchor="end" textLength="47.4" lengthAdjust="spacingAndGlyphs">2000</text>
<line x1="659.7" y1="2488.9" x2="672.2" y2="2488.9" stroke="#000" stroke-width="4" stroke-linecap="butt"/>
<text x="658.9" y="2496.9" font-size="23" text-anchor="end" textLength="47.4" lengthAdjust="spacingAndGlyphs">4000</text>
<line x1="659.7" y1="2415.2" x2="672.2" y2="2415.2" stroke="#000" stroke-width="4" stroke-linecap="butt"/>
<text x="658.9" y="2423.1" font-size="23" text-anchor="end" textLength="47.4" lengthAdjust="spacingAndGlyphs">6000</text>
<line x1="659.7" y1="2341.4" x2="672.2" y2="2341.4" stroke="#000" stroke-width="4" stroke-linecap="butt"/>
<text x="658.9" y="2349.4" font-size="23" text-anchor="end" textLength="47.4" lengthAdjust="spacingAndGlyphs">8000</text>
<line x1="659.7" y1="2267.7" x2="672.2" y2="2267.7" stroke="#000" stroke-width="4" stroke-linecap="butt"/>
<text x="658.9" y="2275.6" font-size="23" text-anchor="end" textLength="59.2" lengthAdjust="spacingAndGlyphs">10000</text>
<line x1="785.3" y1="2636.4" x2="785.3" y2="2646.9" stroke="#000" stroke-width="4" stroke-linecap="butt"/>
<line x1="957.9" y1="2636.4" x2="957.9" y2="2646.9" stroke="#000" stroke-width="4" stroke-linecap="butt"/>
<text x="782.3" y="2670.2" font-size="22.1" text-anchor="middle" textLength="52.3" lengthAdjust="spacingAndGlyphs">Early</text>
<text x="954.9" y="2670.2" font-size="22.1" text-anchor="middle" textLength="44" lengthAdjust="spacingAndGlyphs">Late</text>
<text x="782.3" y="2692.7" font-size="22.1" text-anchor="middle" textLength="121.3" lengthAdjust="spacingAndGlyphs">premanifest</text>
<text x="954.9" y="2692.7" font-size="22.1" text-anchor="middle" textLength="121.3" lengthAdjust="spacingAndGlyphs">premanifest</text>
<text x="782.3" y="2715.2" font-size="22.1" text-anchor="middle" textLength="30.9" lengthAdjust="spacingAndGlyphs">HD</text>
<text x="954.9" y="2715.2" font-size="22.1" text-anchor="middle" textLength="30.9" lengthAdjust="spacingAndGlyphs">HD</text>
<text x="589" y="2453.2" font-size="27.4" text-anchor="middle" textLength="312.5" lengthAdjust="spacingAndGlyphs" transform="rotate(-90 589 2453.2)">C3 concentration (ng/ml)</text>
<text x="860.6" y="2320.8" font-size="32.1" text-anchor="middle" textLength="134.5" lengthAdjust="spacingAndGlyphs" xml:space="preserve"><tspan font-style="italic">P</tspan><tspan> = 0.194</tspan></text>
<text x="1095.9" y="2265.9" font-size="70" text-anchor="middle" font-family="Carlito, 'Noto Sans CJK JP', 'Liberation Sans', sans-serif">m</text>
<text x="1353.6" y="2208" font-size="28.4" text-anchor="middle" textLength="450.8" lengthAdjust="spacingAndGlyphs">Premanifest HD CAP score vs CSF</text>
<text x="1354" y="2239.6" font-size="28.4" text-anchor="middle" textLength="422.3" lengthAdjust="spacingAndGlyphs">iC3b levels adjusted for aging in</text>
<text x="1353.5" y="2272.1" font-size="28.4" text-anchor="middle" textLength="107.5" lengthAdjust="spacingAndGlyphs">controls</text>
<circle cx="1392" cy="2311.5" r="5" fill="#f28a80"/>
<circle cx="1511.8" cy="2375.9" r="5" fill="#f28a80"/>
<circle cx="1395.7" cy="2449.3" r="5" fill="#f28a80"/>
<circle cx="1387" cy="2468.2" r="5" fill="#f28a80"/>
<circle cx="1414.9" cy="2478.1" r="5" fill="#f28a80"/>
<circle cx="1424.2" cy="2479.6" r="5" fill="#f28a80"/>
<circle cx="1355.5" cy="2485.8" r="5" fill="#f28a80"/>
<circle cx="1366.9" cy="2490.4" r="5" fill="#f28a80"/>
<circle cx="1443.7" cy="2485.8" r="5" fill="#f28a80"/>
<circle cx="1455.1" cy="2488" r="5" fill="#f28a80"/>
<circle cx="1469.4" cy="2489.5" r="5" fill="#f28a80"/>
<circle cx="1345.6" cy="2494.8" r="5" fill="#f28a80"/>
<circle cx="1378.1" cy="2508.4" r="5" fill="#f28a80"/>
<circle cx="1444.3" cy="2505.6" r="5" fill="#f28a80"/>
<circle cx="1304.4" cy="2510.9" r="5" fill="#f28a80"/>
<circle cx="1345.3" cy="2516.8" r="5" fill="#f28a80"/>
<circle cx="1438.7" cy="2518" r="5" fill="#f28a80"/>
<circle cx="1297.3" cy="2534.1" r="5" fill="#f28a80"/>
<circle cx="1332.3" cy="2541.5" r="5" fill="#f28a80"/>
<circle cx="1351.8" cy="2541.2" r="5" fill="#f28a80"/>
<circle cx="1400.7" cy="2547.4" r="5" fill="#f28a80"/>
<circle cx="1357.9" cy="2554.5" r="5" fill="#f28a80"/>
<circle cx="1309" cy="2559.8" r="5" fill="#f28a80"/>
<circle cx="1344.6" cy="2563.8" r="5" fill="#f28a80"/>
<circle cx="1431.9" cy="2566.9" r="5" fill="#f28a80"/>
<circle cx="1352.4" cy="2573.7" r="5" fill="#f28a80"/>
<circle cx="1359.2" cy="2575.3" r="5" fill="#f28a80"/>
<circle cx="1368.5" cy="2573.7" r="5" fill="#f28a80"/>
<circle cx="1411.8" cy="2590.7" r="5" fill="#f28a80"/>
<circle cx="1432.5" cy="2594.4" r="5" fill="#f28a80"/>
<circle cx="1353.6" cy="2596" r="5" fill="#f28a80"/>
<line x1="1197" y1="2267.8" x2="1197" y2="2635.4" stroke="#000" stroke-width="4" stroke-linecap="butt"/>
<line x1="1195" y1="2633.4" x2="1561.8" y2="2633.4" stroke="#000" stroke-width="4" stroke-linecap="butt"/>
<line x1="1186.5" y1="2633.4" x2="1199" y2="2633.4" stroke="#000" stroke-width="4" stroke-linecap="butt"/>
<text x="1185.7" y="2641.2" font-size="22.5" text-anchor="end" textLength="11.6" lengthAdjust="spacingAndGlyphs">0</text>
<line x1="1186.5" y1="2560.7" x2="1199" y2="2560.7" stroke="#000" stroke-width="4" stroke-linecap="butt"/>
<text x="1185.7" y="2568.4" font-size="22.5" text-anchor="end" textLength="34.7" lengthAdjust="spacingAndGlyphs">200</text>
<line x1="1186.5" y1="2488" x2="1199" y2="2488" stroke="#000" stroke-width="4" stroke-linecap="butt"/>
<text x="1185.7" y="2495.7" font-size="22.5" text-anchor="end" textLength="34.7" lengthAdjust="spacingAndGlyphs">400</text>
<line x1="1186.5" y1="2415.2" x2="1199" y2="2415.2" stroke="#000" stroke-width="4" stroke-linecap="butt"/>
<text x="1185.7" y="2423" font-size="22.5" text-anchor="end" textLength="34.7" lengthAdjust="spacingAndGlyphs">600</text>
<line x1="1186.5" y1="2342.5" x2="1199" y2="2342.5" stroke="#000" stroke-width="4" stroke-linecap="butt"/>
<text x="1185.7" y="2350.3" font-size="22.5" text-anchor="end" textLength="34.7" lengthAdjust="spacingAndGlyphs">800</text>
<line x1="1186.5" y1="2269.8" x2="1199" y2="2269.8" stroke="#000" stroke-width="4" stroke-linecap="butt"/>
<text x="1185.7" y="2277.6" font-size="22.5" text-anchor="end" textLength="46.3" lengthAdjust="spacingAndGlyphs">1000</text>
<line x1="1197" y1="2631.4" x2="1197" y2="2643.9" stroke="#000" stroke-width="4" stroke-linecap="butt"/>
<text x="1197" y="2662.8" font-size="22.5" text-anchor="middle" textLength="11.6" lengthAdjust="spacingAndGlyphs">0</text>
<line x1="1317.9" y1="2631.4" x2="1317.9" y2="2643.9" stroke="#000" stroke-width="4" stroke-linecap="butt"/>
<text x="1317.9" y="2662.8" font-size="22.5" text-anchor="middle" textLength="23.2" lengthAdjust="spacingAndGlyphs">50</text>
<line x1="1438.9" y1="2631.4" x2="1438.9" y2="2643.9" stroke="#000" stroke-width="4" stroke-linecap="butt"/>
<text x="1438.9" y="2662.8" font-size="22.5" text-anchor="middle" textLength="34.7" lengthAdjust="spacingAndGlyphs">100</text>
<line x1="1559.8" y1="2631.4" x2="1559.8" y2="2643.9" stroke="#000" stroke-width="4" stroke-linecap="butt"/>
<text x="1559.8" y="2662.8" font-size="22.5" text-anchor="middle" textLength="34.7" lengthAdjust="spacingAndGlyphs">150</text>
<text x="1128.9" y="2449.2" font-size="27.1" text-anchor="middle" textLength="335.3" lengthAdjust="spacingAndGlyphs" transform="rotate(-90 1128.9 2449.2)">iC3B concentration (ng/ml)</text>
<text x="1378.7" y="2700" font-size="27.1" text-anchor="middle" textLength="132.8" lengthAdjust="spacingAndGlyphs">CAP score</text>
<text x="1276.2" y="2309.5" font-size="32.1" text-anchor="middle" textLength="134.8" lengthAdjust="spacingAndGlyphs">R = 0.341</text>
<text x="1276.2" y="2348.1" font-size="32.1" text-anchor="middle" textLength="134.8" lengthAdjust="spacingAndGlyphs" xml:space="preserve"><tspan font-style="italic">P</tspan><tspan> = 0.060</tspan></text>
<text x="1606.9" y="2258.8" font-size="68" text-anchor="middle" font-family="Carlito, 'Noto Sans CJK JP', 'Liberation Sans', sans-serif">n</text>
<text x="1843" y="2212.2" font-size="28.4" text-anchor="middle" textLength="371.9" lengthAdjust="spacingAndGlyphs">CSF iC3b levels adjusted for</text>
<text x="1842.7" y="2245" font-size="28.4" text-anchor="middle" textLength="221.9" lengthAdjust="spacingAndGlyphs">aging in controls</text>
<path d="M1741 2634.2V2540.7H1853V2634.2" fill="#fff" stroke="#8c8c8c" stroke-width="4"/>
<path d="M1912.5 2634.2V2498.2H2024V2634.2" fill="#fff" stroke="#b4b4b4" stroke-width="4"/>
<circle cx="1797.2" cy="2450.4" r="5" fill="#f7923a"/>
<circle cx="1780.2" cy="2512.3" r="5" fill="#f7923a"/>
<circle cx="1814.6" cy="2510.2" r="5" fill="#f7923a"/>
<circle cx="1797.2" cy="2518.6" r="5" fill="#f7923a"/>
<circle cx="1822.6" cy="2535.6" r="5" fill="#f7923a"/>
<circle cx="1771.8" cy="2543.1" r="5" fill="#f7923a"/>
<circle cx="1805.6" cy="2543.1" r="5" fill="#f7923a"/>
<circle cx="1789.2" cy="2549" r="5" fill="#f7923a"/>
<circle cx="1771.8" cy="2561.6" r="5" fill="#f7923a"/>
<circle cx="1822.6" cy="2565.5" r="5" fill="#f7923a"/>
<circle cx="1789.2" cy="2575.3" r="5" fill="#f7923a"/>
<circle cx="1805.6" cy="2575.3" r="5" fill="#f7923a"/>
<circle cx="1797.2" cy="2597.4" r="5" fill="#f7923a"/>
<rect x="1962.9" y="2308" width="10" height="10" fill="#f046e4"/>
<rect x="1962.9" y="2372.2" width="10" height="10" fill="#f046e4"/>
<rect x="1962.9" y="2464.2" width="10" height="10" fill="#f046e4"/>
<rect x="1912.1" y="2476.2" width="10" height="10" fill="#f046e4"/>
<rect x="2013.7" y="2474.7" width="10" height="10" fill="#f046e4"/>
<rect x="1927" y="2482.2" width="10" height="10" fill="#f046e4"/>
<rect x="1941" y="2485.8" width="10" height="10" fill="#f046e4"/>
<rect x="1970" y="2487.3" width="10" height="10" fill="#f046e4"/>
<rect x="1985" y="2484.6" width="10" height="10" fill="#f046e4"/>
<rect x="1998.7" y="2482.2" width="10" height="10" fill="#f046e4"/>
<rect x="1955.1" y="2491.1" width="10" height="10" fill="#f046e4"/>
<rect x="1955.1" y="2497.1" width="10" height="10" fill="#f046e4"/>
<rect x="1955.1" y="2502.2" width="10" height="10" fill="#f046e4"/>
<rect x="1970.9" y="2514.7" width="10" height="10" fill="#f046e4"/>
<rect x="1962.9" y="2550.9" width="10" height="10" fill="#f046e4"/>
<rect x="1955.1" y="2562.9" width="10" height="10" fill="#f046e4"/>
<rect x="1979.9" y="2571.5" width="10" height="10" fill="#f046e4"/>
<rect x="1955.1" y="2590.9" width="10" height="10" fill="#f046e4"/>
<rect x="1970.9" y="2587.4" width="10" height="10" fill="#f046e4"/>
<line x1="1797.2" y1="2530.5" x2="1797.2" y2="2551.7" stroke="#f7923a" stroke-width="1.7" stroke-linecap="butt"/>
<line x1="1768.1" y1="2530.5" x2="1826.3" y2="2530.5" stroke="#f7923a" stroke-width="1.7" stroke-linecap="butt"/>
<line x1="1768.1" y1="2551.7" x2="1826.3" y2="2551.7" stroke="#f7923a" stroke-width="1.7" stroke-linecap="butt"/>
<line x1="1967.9" y1="2482.4" x2="1967.9" y2="2515.6" stroke="#f046e4" stroke-width="1.7" stroke-linecap="butt"/>
<line x1="1938.8" y1="2482.4" x2="1997" y2="2482.4" stroke="#f046e4" stroke-width="1.7" stroke-linecap="butt"/>
<line x1="1938.8" y1="2515.6" x2="1997" y2="2515.6" stroke="#f046e4" stroke-width="1.7" stroke-linecap="butt"/>
<line x1="1683" y1="2269.7" x2="1683" y2="2634.2" stroke="#000" stroke-width="4" stroke-linecap="butt"/>
<line x1="1675" y1="2634.2" x2="2082" y2="2634.2" stroke="#000" stroke-width="4" stroke-linecap="butt"/>
<line x1="1672.5" y1="2634.2" x2="1685" y2="2634.2" stroke="#000" stroke-width="4" stroke-linecap="butt"/>
<text x="1671.7" y="2642" font-size="22.5" text-anchor="end" textLength="11.6" lengthAdjust="spacingAndGlyphs">0</text>
<line x1="1672.5" y1="2561.7" x2="1685" y2="2561.7" stroke="#000" stroke-width="4" stroke-linecap="butt"/>
<text x="1671.7" y="2569.5" font-size="22.5" text-anchor="end" textLength="34.7" lengthAdjust="spacingAndGlyphs">200</text>
<line x1="1672.5" y1="2489.2" x2="1685" y2="2489.2" stroke="#000" stroke-width="4" stroke-linecap="butt"/>
<text x="1671.7" y="2497" font-size="22.5" text-anchor="end" textLength="34.7" lengthAdjust="spacingAndGlyphs">400</text>
<line x1="1672.5" y1="2416.7" x2="1685" y2="2416.7" stroke="#000" stroke-width="4" stroke-linecap="butt"/>
<text x="1671.7" y="2424.5" font-size="22.5" text-anchor="end" textLength="34.7" lengthAdjust="spacingAndGlyphs">600</text>
<line x1="1672.5" y1="2344.2" x2="1685" y2="2344.2" stroke="#000" stroke-width="4" stroke-linecap="butt"/>
<text x="1671.7" y="2352" font-size="22.5" text-anchor="end" textLength="34.7" lengthAdjust="spacingAndGlyphs">800</text>
<line x1="1672.5" y1="2271.7" x2="1685" y2="2271.7" stroke="#000" stroke-width="4" stroke-linecap="butt"/>
<text x="1671.7" y="2279.5" font-size="22.5" text-anchor="end" textLength="46.3" lengthAdjust="spacingAndGlyphs">1000</text>
<line x1="1797.2" y1="2634.2" x2="1797.2" y2="2644.7" stroke="#000" stroke-width="4" stroke-linecap="butt"/>
<line x1="1967.9" y1="2634.2" x2="1967.9" y2="2644.7" stroke="#000" stroke-width="4" stroke-linecap="butt"/>
<text x="1794.2" y="2664" font-size="21.8" text-anchor="middle" textLength="51.6" lengthAdjust="spacingAndGlyphs">Early</text>
<text x="1964.9" y="2664" font-size="21.8" text-anchor="middle" textLength="43.4" lengthAdjust="spacingAndGlyphs">Late</text>
<text x="1794.2" y="2687.8" font-size="21.8" text-anchor="middle" textLength="119.6" lengthAdjust="spacingAndGlyphs">premanifest</text>
<text x="1964.9" y="2687.8" font-size="21.8" text-anchor="middle" textLength="119.6" lengthAdjust="spacingAndGlyphs">premanifest</text>
<text x="1794.2" y="2711.6" font-size="21.8" text-anchor="middle" textLength="30.5" lengthAdjust="spacingAndGlyphs">HD</text>
<text x="1964.9" y="2711.6" font-size="21.8" text-anchor="middle" textLength="30.5" lengthAdjust="spacingAndGlyphs">HD</text>
<text x="1614.8" y="2450.2" font-size="27.1" text-anchor="middle" textLength="335.1" lengthAdjust="spacingAndGlyphs" transform="rotate(-90 1614.8 2450.2)">iC3B concentration (ng/ml)</text>
<text x="1860.5" y="2319.9" font-size="32.1" text-anchor="middle" textLength="152.7" lengthAdjust="spacingAndGlyphs" xml:space="preserve"><tspan>* </tspan><tspan font-style="italic">P</tspan><tspan> = 0.011</tspan></text></svg></body></html>
